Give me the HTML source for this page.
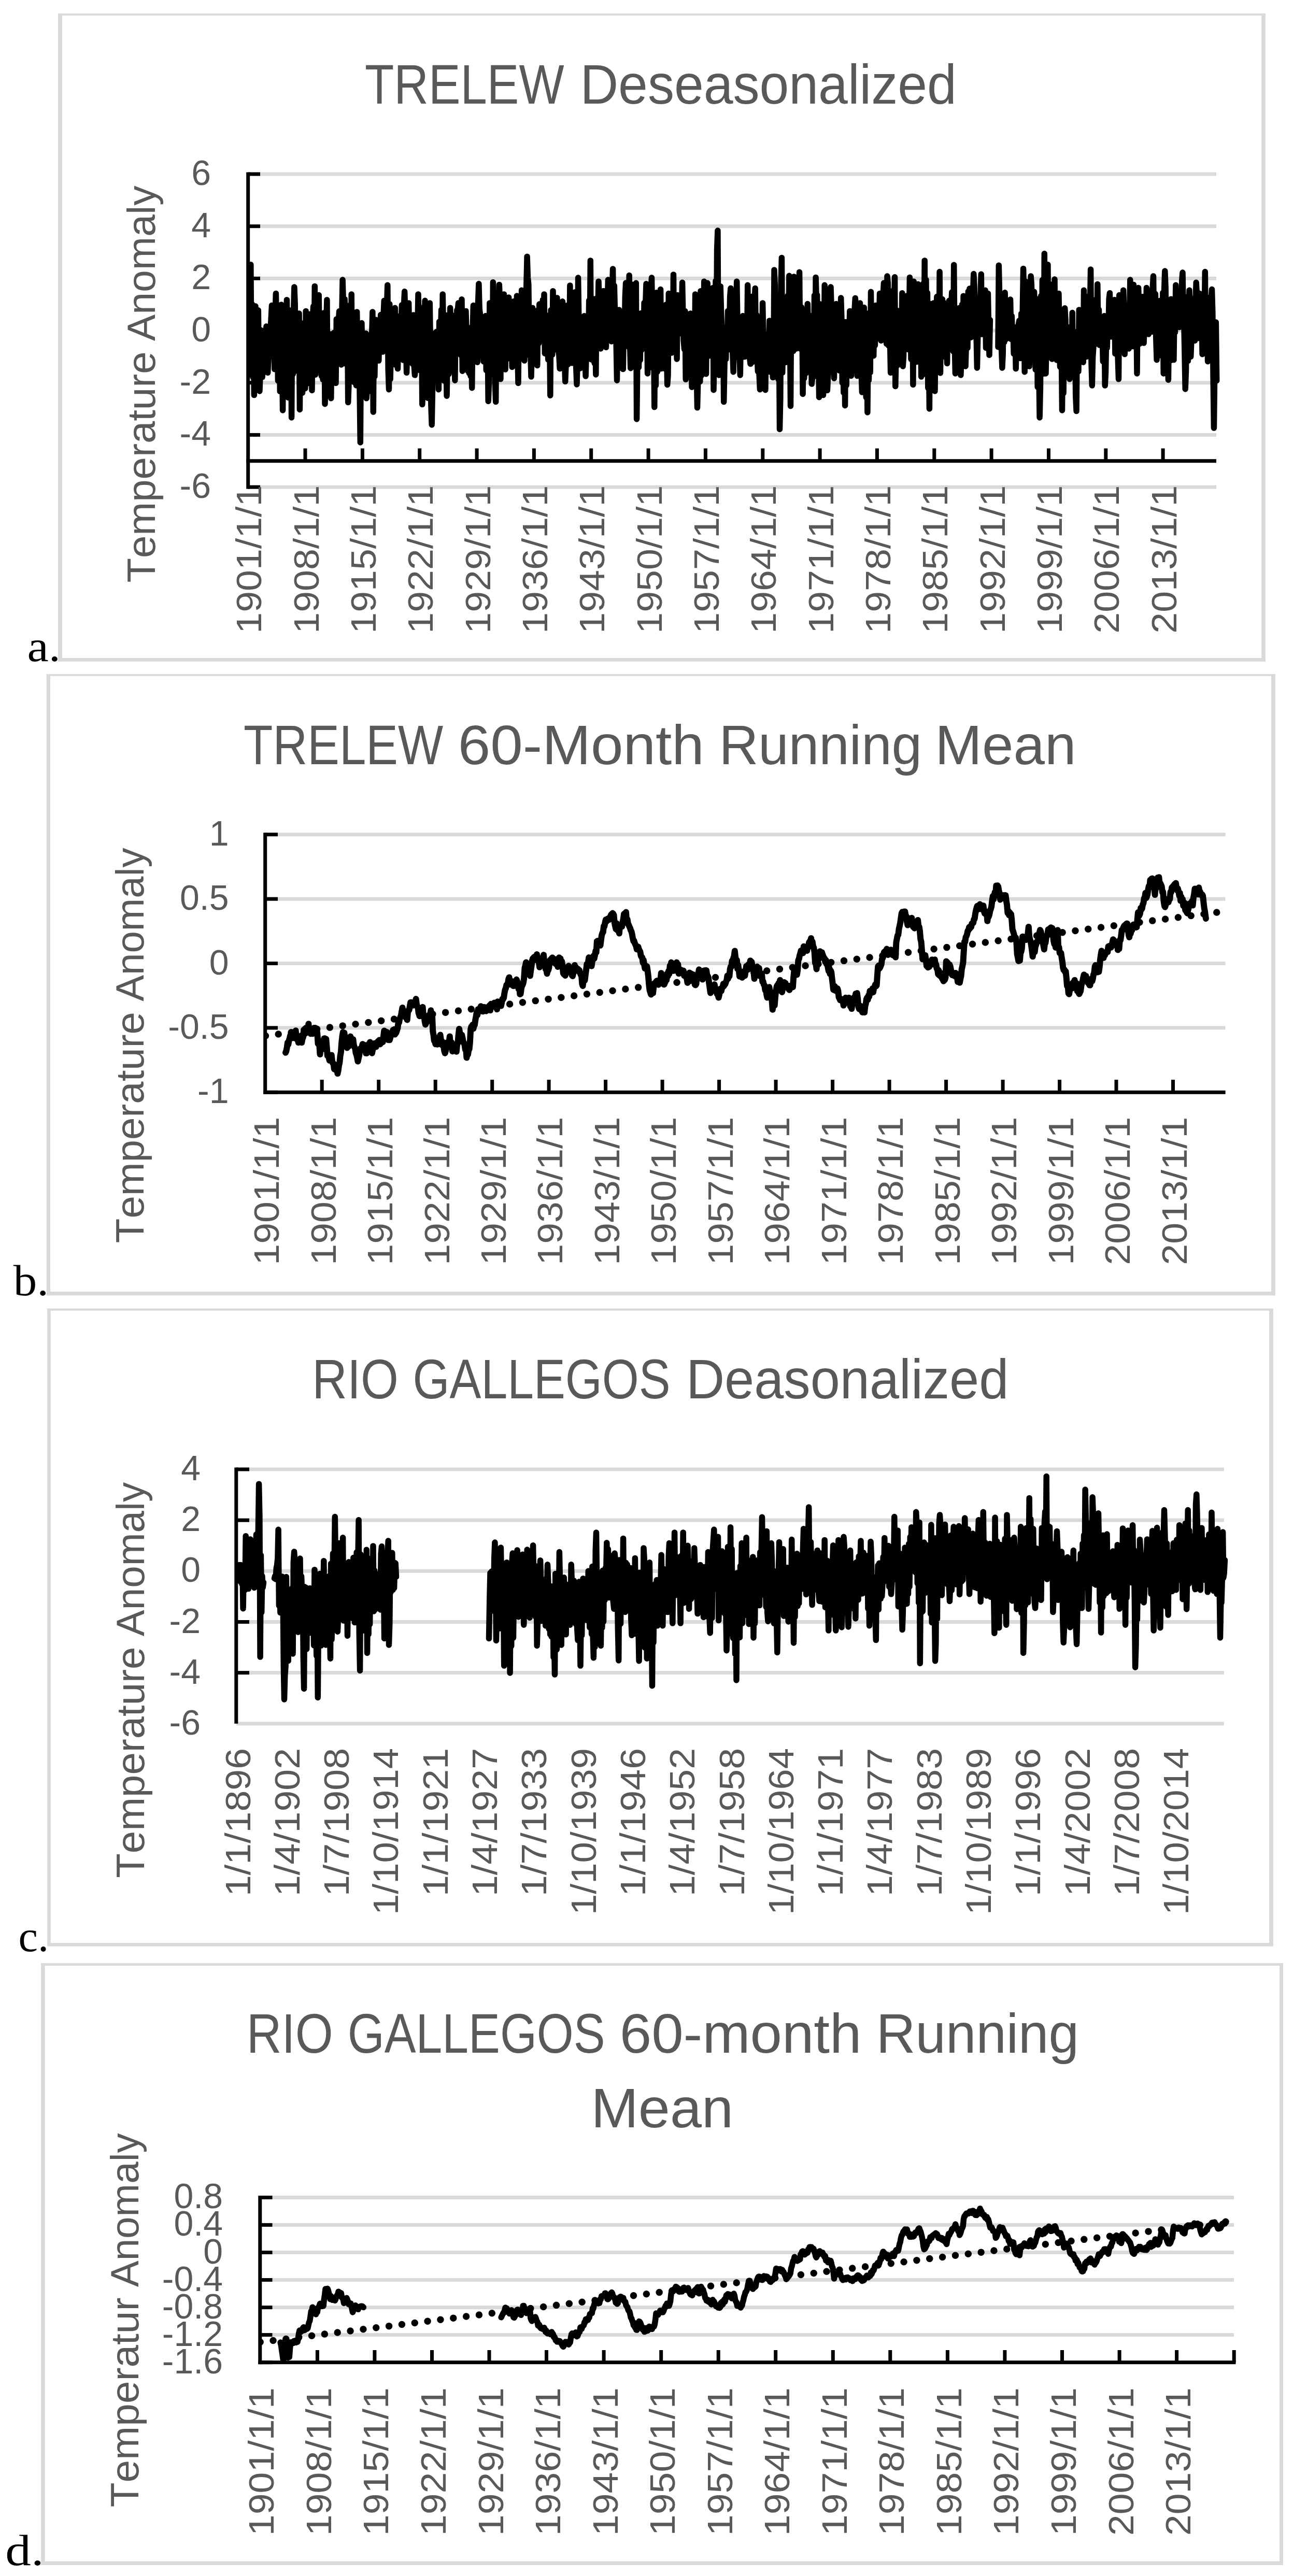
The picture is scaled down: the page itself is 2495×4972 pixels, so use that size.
<!DOCTYPE html>
<html lang="en"><head><meta charset="utf-8"><title>Temperature anomaly charts</title>
<style>html,body{margin:0;padding:0;background:#fff}svg{display:block}</style>
</head><body>
<svg width="2495" height="4972" viewBox="0 0 2495 4972">
<rect x="112.0" y="26.0" width="2329.9" height="3.9" fill="#d9d9d9"/>
<rect x="112.0" y="26.0" width="8.0" height="1250.8" fill="#d9d9d9"/>
<rect x="2434.2" y="26.0" width="7.7" height="1250.8" fill="#d9d9d9"/>
<rect x="112.0" y="1270.0" width="2329.9" height="6.8" fill="#d9d9d9"/>
<text y="200.0" font-size="107.5" fill="#595959" style="font-kerning:none" font-family='"Liberation Sans", sans-serif'><tspan x="703.9" textLength="384.6" lengthAdjust="spacingAndGlyphs">TRELEW</tspan> <tspan x="1119.4" textLength="726.5" lengthAdjust="spacingAndGlyphs">Deseasonalized</tspan></text>
<rect x="478.7" y="332.5" width="1868.3" height="7.0" fill="#d9d9d9"/>
<rect x="478.7" y="433.2" width="1868.3" height="7.0" fill="#d9d9d9"/>
<rect x="478.7" y="533.9" width="1868.3" height="7.0" fill="#d9d9d9"/>
<rect x="478.7" y="634.5" width="1868.3" height="7.0" fill="#d9d9d9"/>
<rect x="478.7" y="735.2" width="1868.3" height="7.0" fill="#d9d9d9"/>
<rect x="478.7" y="835.9" width="1868.3" height="7.0" fill="#d9d9d9"/>
<rect x="478.7" y="936.6" width="1868.3" height="7.0" fill="#d9d9d9"/>
<path d="M482.5 569.0 L483.8 510.7 L485.1 702.6 L486.4 587.0 L487.8 727.5 L489.1 618.1 L490.4 762.6 L491.7 646.5 L493.0 591.0 L494.3 717.4 L495.6 659.9 L496.9 688.7 L498.3 598.8 L499.6 714.6 L500.9 754.9 L502.2 722.1 L503.5 637.2 L504.8 697.7 L506.1 727.7 L507.5 711.3 L508.8 657.4 L510.1 682.2 L511.4 648.9 L512.7 648.6 L514.0 629.9 L515.3 684.0 L516.7 719.3 L518.0 690.7 L519.3 632.9 L520.6 685.3 L521.9 640.6 L523.2 615.1 L524.5 589.6 L525.8 650.0 L527.2 681.1 L528.5 625.5 L529.8 712.5 L531.1 605.3 L532.4 566.4 L533.7 635.2 L535.0 603.1 L536.4 734.8 L537.7 638.1 L539.0 623.1 L540.3 755.5 L541.6 652.5 L542.9 588.0 L544.2 669.1 L545.6 792.0 L546.9 633.5 L548.2 735.9 L549.5 737.0 L550.8 609.4 L552.1 711.6 L553.4 578.7 L554.7 658.1 L556.1 767.5 L557.4 598.3 L558.7 626.3 L560.0 709.1 L561.3 599.7 L562.6 805.9 L563.9 600.9 L565.3 722.2 L566.6 600.2 L567.9 554.0 L569.2 587.7 L570.5 715.4 L571.8 712.7 L573.1 656.8 L574.5 709.2 L575.8 657.2 L577.1 605.0 L578.4 790.5 L579.7 642.4 L581.0 745.3 L582.3 681.4 L583.6 758.2 L585.0 623.9 L586.3 734.8 L587.6 632.3 L588.9 749.7 L590.2 600.4 L591.5 741.1 L592.8 634.4 L594.2 739.7 L595.5 634.3 L596.8 606.6 L598.1 732.4 L599.4 718.6 L600.7 638.0 L602.0 753.4 L603.3 613.6 L604.7 591.3 L606.0 696.8 L607.3 552.4 L608.6 723.2 L609.9 592.0 L611.2 710.1 L612.5 635.1 L613.9 707.3 L615.2 569.5 L616.5 680.8 L617.8 609.9 L619.1 692.7 L620.4 725.8 L621.7 604.9 L623.1 732.6 L624.4 636.6 L625.7 603.8 L627.0 779.7 L628.3 714.3 L629.6 628.5 L630.9 578.7 L632.2 750.5 L633.6 655.7 L634.9 708.4 L636.2 644.8 L637.5 724.8 L638.8 768.8 L640.1 648.5 L641.4 691.6 L642.8 690.5 L644.1 642.3 L645.4 725.5 L646.7 662.2 L648.0 739.4 L649.3 615.9 L650.6 659.4 L652.0 689.9 L653.3 620.1 L654.6 600.8 L655.9 662.8 L657.2 621.7 L658.5 703.9 L659.8 610.9 L661.1 540.1 L662.5 585.4 L663.8 696.3 L665.1 577.1 L666.4 629.6 L667.7 592.3 L669.0 703.4 L670.3 590.0 L671.7 776.6 L673.0 741.6 L674.3 711.4 L675.6 636.5 L676.9 726.2 L678.2 567.9 L679.5 727.1 L680.8 730.8 L682.2 606.7 L683.5 737.9 L684.8 700.9 L686.1 641.4 L687.4 744.0 L688.7 601.9 L690.0 686.3 L691.4 734.6 L692.7 649.7 L694.0 752.1 L695.3 853.9 L696.6 662.3 L697.9 623.6 L699.2 701.5 L700.6 762.2 L701.9 644.1 L703.2 745.4 L704.5 740.5 L705.8 643.4 L707.1 768.8 L708.4 748.4 L709.7 727.4 L711.1 660.3 L712.4 727.6 L713.7 675.7 L715.0 646.0 L716.3 755.3 L717.6 648.6 L718.9 601.9 L720.3 795.1 L721.6 619.3 L722.9 726.6 L724.2 645.1 L725.5 617.3 L726.8 689.3 L728.1 620.8 L729.5 637.7 L730.8 696.1 L732.1 624.0 L733.4 657.6 L734.7 607.6 L736.0 667.2 L737.3 608.8 L738.6 679.1 L740.0 609.0 L741.3 580.3 L742.6 620.6 L743.9 675.9 L745.2 599.1 L746.5 590.2 L747.8 550.3 L749.2 714.5 L750.5 751.8 L751.8 586.7 L753.1 732.0 L754.4 675.4 L755.7 609.7 L757.0 671.4 L758.4 685.8 L759.7 642.7 L761.0 696.5 L762.3 594.2 L763.6 704.4 L764.9 666.6 L766.2 610.2 L767.5 711.6 L768.9 637.6 L770.2 656.8 L771.5 617.6 L772.8 659.7 L774.1 627.5 L775.4 588.7 L776.7 629.3 L778.1 695.0 L779.4 589.2 L780.7 562.7 L782.0 608.0 L783.3 654.4 L784.6 719.3 L785.9 681.5 L787.2 620.9 L788.6 584.9 L789.9 645.1 L791.2 611.2 L792.5 698.8 L793.8 635.3 L795.1 688.5 L796.4 702.6 L797.8 608.1 L799.1 704.6 L800.4 724.0 L801.7 712.2 L803.0 612.2 L804.3 690.7 L805.6 643.6 L807.0 567.9 L808.3 625.1 L809.6 714.3 L810.9 593.5 L812.2 706.9 L813.5 626.1 L814.8 780.6 L816.1 742.0 L817.5 612.2 L818.8 668.8 L820.1 580.3 L821.4 643.5 L822.7 714.6 L824.0 671.4 L825.3 768.2 L826.7 640.7 L828.0 635.1 L829.3 584.9 L830.6 680.2 L831.9 783.3 L833.2 819.9 L834.5 751.3 L835.9 652.8 L837.2 710.9 L838.5 729.9 L839.8 642.6 L841.1 714.4 L842.4 640.3 L843.7 733.4 L845.0 667.7 L846.4 751.8 L847.7 620.8 L849.0 733.7 L850.3 656.7 L851.6 598.1 L852.9 727.9 L854.2 567.9 L855.6 635.1 L856.9 734.8 L858.2 626.3 L859.5 608.2 L860.8 690.6 L862.1 764.2 L863.4 688.0 L864.7 655.4 L866.1 722.0 L867.4 646.9 L868.7 594.2 L870.0 630.9 L871.3 607.6 L872.6 689.2 L873.9 612.7 L875.3 707.1 L876.6 643.0 L877.9 734.2 L879.2 621.3 L880.5 678.4 L881.8 598.7 L883.1 601.2 L884.5 584.9 L885.8 616.9 L887.1 659.2 L888.4 625.9 L889.7 685.9 L891.0 577.7 L892.3 716.2 L893.6 604.6 L895.0 698.9 L896.3 633.3 L897.6 614.7 L898.9 600.4 L900.2 644.0 L901.5 639.5 L902.8 716.0 L904.2 632.8 L905.5 720.6 L906.8 642.9 L908.1 725.9 L909.4 656.2 L910.7 748.7 L912.0 639.8 L913.4 589.6 L914.7 612.4 L916.0 674.4 L917.3 602.5 L918.6 656.5 L919.9 589.2 L921.2 699.2 L922.5 584.2 L923.9 547.8 L925.2 596.0 L926.5 607.7 L927.8 658.3 L929.1 681.9 L930.4 619.1 L931.7 664.4 L933.1 697.7 L934.4 683.7 L935.7 632.1 L937.0 609.7 L938.3 714.6 L939.6 698.8 L940.9 638.5 L942.2 774.4 L943.6 738.3 L944.9 584.9 L946.2 604.9 L947.5 689.0 L948.8 585.4 L950.1 722.2 L951.4 544.7 L952.8 694.0 L954.1 584.0 L955.4 741.0 L956.7 775.6 L958.0 595.0 L959.3 707.8 L960.6 586.6 L962.0 605.9 L963.3 549.4 L964.6 579.3 L965.9 731.7 L967.2 596.2 L968.5 695.9 L969.8 676.6 L971.1 625.1 L972.5 567.9 L973.8 624.2 L975.1 713.1 L976.4 586.4 L977.7 666.2 L979.0 601.3 L980.3 658.6 L981.7 574.1 L983.0 691.9 L984.3 629.7 L985.6 662.0 L986.9 603.8 L988.2 708.5 L989.5 624.9 L990.9 581.8 L992.2 612.8 L993.5 616.9 L994.8 705.7 L996.1 680.5 L997.4 571.0 L998.7 678.6 L1000.0 739.4 L1001.4 617.5 L1002.7 685.7 L1004.0 578.6 L1005.3 661.3 L1006.6 560.2 L1007.9 683.7 L1009.2 581.1 L1010.6 638.5 L1011.9 696.1 L1013.2 567.7 L1014.5 685.6 L1015.8 551.8 L1017.1 495.2 L1018.4 535.5 L1019.8 548.5 L1021.1 652.7 L1022.4 616.2 L1023.7 678.7 L1025.0 727.1 L1026.3 678.4 L1027.6 594.2 L1028.9 643.4 L1030.3 635.8 L1031.6 680.8 L1032.9 603.1 L1034.2 667.8 L1035.5 619.6 L1036.8 705.4 L1038.1 598.6 L1039.5 662.8 L1040.8 587.1 L1042.1 600.6 L1043.4 654.5 L1044.7 614.8 L1046.0 655.5 L1047.3 579.0 L1048.6 643.3 L1050.0 567.9 L1051.3 682.2 L1052.6 607.6 L1053.9 676.5 L1055.2 622.1 L1056.5 672.5 L1057.8 694.2 L1059.2 626.6 L1060.5 643.6 L1061.8 763.3 L1063.1 598.6 L1064.4 683.8 L1065.7 684.7 L1067.0 561.7 L1068.4 646.5 L1069.7 616.7 L1071.0 674.5 L1072.3 657.5 L1073.6 587.9 L1074.9 575.0 L1076.2 626.8 L1077.5 676.2 L1078.9 686.1 L1080.2 711.6 L1081.5 671.8 L1082.8 608.2 L1084.1 677.1 L1085.4 581.8 L1086.7 610.0 L1088.1 702.7 L1089.4 693.9 L1090.7 736.3 L1092.0 706.1 L1093.3 689.1 L1094.6 589.5 L1095.9 703.4 L1097.3 616.7 L1098.6 657.5 L1099.9 550.9 L1101.2 691.2 L1102.5 591.4 L1103.8 700.8 L1105.1 568.4 L1106.4 671.7 L1107.8 606.3 L1109.1 564.1 L1110.4 585.9 L1111.7 709.7 L1113.0 741.9 L1114.3 694.5 L1115.6 536.0 L1117.0 625.5 L1118.3 667.7 L1119.6 710.9 L1120.9 627.8 L1122.2 700.0 L1123.5 622.1 L1124.8 654.6 L1126.2 695.0 L1127.5 609.7 L1128.8 677.1 L1130.1 726.1 L1131.4 676.4 L1132.7 629.4 L1134.0 654.9 L1135.3 678.3 L1136.7 579.8 L1138.0 674.1 L1139.3 502.9 L1140.6 693.7 L1141.9 686.4 L1143.2 576.2 L1144.5 695.7 L1145.9 577.8 L1147.2 701.2 L1148.5 610.8 L1149.8 723.0 L1151.1 575.9 L1152.4 650.6 L1153.7 606.1 L1155.0 543.2 L1156.4 587.7 L1157.7 656.8 L1159.0 672.9 L1160.3 638.5 L1161.6 604.6 L1162.9 568.5 L1164.2 561.7 L1165.6 574.3 L1166.9 651.2 L1168.2 567.7 L1169.5 670.4 L1170.8 576.1 L1172.1 597.0 L1173.4 540.1 L1174.8 589.7 L1176.1 553.6 L1177.4 621.2 L1178.7 584.7 L1180.0 659.0 L1181.3 559.7 L1182.6 519.0 L1183.9 626.7 L1185.3 551.3 L1186.6 603.9 L1187.9 605.7 L1189.2 665.3 L1190.5 734.2 L1191.8 613.5 L1193.1 711.3 L1194.5 597.9 L1195.8 679.0 L1197.1 701.1 L1198.4 635.5 L1199.7 702.3 L1201.0 630.7 L1202.3 712.5 L1203.7 616.9 L1205.0 656.4 L1206.3 573.5 L1207.6 546.3 L1208.9 667.1 L1210.2 592.1 L1211.5 566.0 L1212.8 669.3 L1214.2 531.5 L1215.5 662.0 L1216.8 710.7 L1218.1 652.5 L1219.4 549.0 L1220.7 668.8 L1222.0 609.1 L1223.4 707.9 L1224.7 565.2 L1226.0 647.8 L1227.3 546.3 L1228.6 809.0 L1229.9 699.3 L1231.2 605.2 L1232.5 709.2 L1233.9 610.6 L1235.2 695.2 L1236.5 604.8 L1237.8 676.0 L1239.1 640.8 L1240.4 611.2 L1241.7 669.1 L1243.1 584.4 L1244.4 661.2 L1245.7 586.9 L1247.0 547.8 L1248.3 576.1 L1249.6 720.9 L1250.9 615.2 L1252.3 683.8 L1253.6 597.8 L1254.9 709.1 L1256.2 559.0 L1257.5 536.0 L1258.8 619.0 L1260.1 696.1 L1261.4 624.5 L1262.8 785.8 L1264.1 608.4 L1265.4 744.2 L1266.7 564.8 L1268.0 718.1 L1269.3 715.0 L1270.6 606.2 L1272.0 665.2 L1273.3 647.2 L1274.6 558.6 L1275.9 711.6 L1277.2 684.4 L1278.5 598.3 L1279.8 609.0 L1281.2 661.5 L1282.5 621.3 L1283.8 712.1 L1285.1 588.0 L1286.4 675.0 L1287.7 742.5 L1289.0 724.1 L1290.3 566.4 L1291.7 597.2 L1293.0 675.8 L1294.3 623.4 L1295.6 681.0 L1296.9 670.4 L1298.2 659.5 L1299.5 529.9 L1300.9 676.5 L1302.2 595.1 L1303.5 663.8 L1304.8 608.0 L1306.1 693.0 L1307.4 569.5 L1308.7 590.7 L1310.1 613.2 L1311.4 643.7 L1312.7 602.6 L1314.0 640.5 L1315.3 603.4 L1316.6 545.3 L1317.9 609.3 L1319.2 658.3 L1320.6 674.3 L1321.9 600.6 L1323.2 732.3 L1324.5 687.6 L1325.8 606.2 L1327.1 711.0 L1328.4 653.2 L1329.8 687.9 L1331.1 654.6 L1332.4 605.0 L1333.7 640.2 L1335.0 747.2 L1336.3 646.3 L1337.6 722.4 L1338.9 646.3 L1340.3 728.4 L1341.6 567.9 L1342.9 641.3 L1344.2 716.6 L1345.5 786.8 L1346.8 735.4 L1348.1 597.4 L1349.5 631.5 L1350.8 736.5 L1352.1 561.7 L1353.4 725.0 L1354.7 677.0 L1356.0 629.0 L1357.3 680.2 L1358.7 543.2 L1360.0 682.2 L1361.3 613.8 L1362.6 721.8 L1363.9 580.4 L1365.2 546.3 L1366.5 598.4 L1367.8 686.9 L1369.2 596.0 L1370.5 656.6 L1371.8 611.4 L1373.1 686.4 L1374.4 603.1 L1375.7 555.5 L1377.0 752.7 L1378.4 679.2 L1379.7 689.2 L1381.0 542.1 L1382.3 663.2 L1383.6 481.1 L1384.9 445.1 L1386.2 687.3 L1387.6 724.0 L1388.9 664.9 L1390.2 552.7 L1391.5 599.5 L1392.8 636.0 L1394.1 711.3 L1395.4 638.8 L1396.7 775.6 L1398.1 701.5 L1399.4 646.5 L1400.7 693.3 L1402.0 631.2 L1403.3 675.6 L1404.6 600.2 L1405.9 674.5 L1407.3 645.0 L1408.6 573.4 L1409.9 556.5 L1411.2 582.0 L1412.5 576.1 L1413.8 680.4 L1415.1 717.8 L1416.4 662.0 L1417.8 590.7 L1419.1 657.8 L1420.4 609.1 L1421.7 543.2 L1423.0 622.4 L1424.3 690.4 L1425.6 612.0 L1427.0 685.0 L1428.3 724.0 L1429.6 644.7 L1430.9 688.2 L1432.2 636.6 L1433.5 609.7 L1434.8 637.4 L1436.2 688.6 L1437.5 688.3 L1438.8 614.3 L1440.1 674.0 L1441.4 680.9 L1442.7 550.3 L1444.0 652.0 L1445.3 622.1 L1446.7 691.1 L1448.0 702.3 L1449.3 608.4 L1450.6 572.6 L1451.9 698.9 L1453.2 594.4 L1454.5 653.1 L1455.9 587.9 L1457.2 556.5 L1458.5 656.4 L1459.8 607.7 L1461.1 680.3 L1462.4 717.0 L1463.7 625.7 L1465.1 723.2 L1466.4 751.8 L1467.7 621.3 L1469.0 646.3 L1470.3 683.7 L1471.6 584.9 L1472.9 653.0 L1474.2 683.2 L1475.6 656.9 L1476.9 752.7 L1478.2 645.5 L1479.5 699.7 L1480.8 666.3 L1482.1 655.4 L1483.4 693.4 L1484.8 619.0 L1486.1 717.8 L1487.4 634.5 L1488.7 625.0 L1490.0 691.5 L1491.3 728.6 L1492.6 719.2 L1494.0 520.9 L1495.3 550.4 L1496.6 671.7 L1497.9 615.3 L1499.2 673.3 L1500.5 569.6 L1501.8 732.0 L1503.1 622.3 L1504.5 828.5 L1505.8 769.9 L1507.1 549.4 L1508.4 497.4 L1509.7 719.3 L1511.0 652.9 L1512.3 670.7 L1513.7 588.1 L1515.0 600.4 L1516.3 699.2 L1517.6 581.3 L1518.9 693.8 L1520.2 570.5 L1521.5 673.2 L1522.8 532.3 L1524.2 608.1 L1525.5 783.7 L1526.8 594.3 L1528.1 675.8 L1529.4 617.1 L1530.7 677.7 L1532.0 533.9 L1533.4 654.6 L1534.7 549.7 L1536.0 673.2 L1537.3 559.0 L1538.6 663.1 L1539.9 666.7 L1541.2 639.6 L1542.6 525.2 L1543.9 672.8 L1545.2 660.6 L1546.5 593.0 L1547.8 613.6 L1549.1 760.5 L1550.4 618.7 L1551.7 730.2 L1553.1 710.1 L1554.4 610.5 L1555.7 719.9 L1557.0 626.3 L1558.3 586.5 L1559.6 639.9 L1560.9 704.2 L1562.3 646.6 L1563.6 695.1 L1564.9 610.0 L1566.2 741.0 L1567.5 729.4 L1568.8 617.6 L1570.1 727.0 L1571.5 570.4 L1572.8 724.2 L1574.1 535.4 L1575.4 580.4 L1576.7 569.8 L1578.0 703.8 L1579.3 671.3 L1580.6 766.7 L1582.0 586.7 L1583.3 711.2 L1584.6 683.1 L1585.9 595.9 L1587.2 712.6 L1588.5 762.6 L1589.8 731.7 L1591.2 550.3 L1592.5 571.9 L1593.8 677.7 L1595.1 633.9 L1596.4 753.4 L1597.7 725.6 L1599.0 626.6 L1600.3 717.9 L1601.7 573.4 L1603.0 554.0 L1604.3 595.8 L1605.6 594.1 L1606.9 701.0 L1608.2 640.8 L1609.5 730.2 L1610.9 631.4 L1612.2 707.5 L1613.5 586.5 L1614.8 698.2 L1616.1 648.5 L1617.4 620.5 L1618.7 687.0 L1620.1 715.6 L1621.4 632.2 L1622.7 575.0 L1624.0 616.8 L1625.3 738.9 L1626.6 636.3 L1627.9 758.0 L1629.2 628.6 L1630.6 782.7 L1631.9 621.5 L1633.2 743.8 L1634.5 642.1 L1635.8 644.3 L1637.1 712.9 L1638.4 658.7 L1639.8 600.4 L1641.1 609.0 L1642.4 725.5 L1643.7 639.1 L1645.0 671.9 L1646.3 676.0 L1647.6 628.2 L1649.0 598.6 L1650.3 575.6 L1651.6 591.7 L1652.9 680.4 L1654.2 725.5 L1655.5 682.8 L1656.8 718.7 L1658.1 615.0 L1659.5 584.9 L1660.8 638.0 L1662.1 717.7 L1663.4 757.1 L1664.7 712.2 L1666.0 730.4 L1667.3 593.6 L1668.7 722.3 L1670.0 627.2 L1671.3 766.9 L1672.6 648.1 L1673.9 796.0 L1675.2 663.3 L1676.5 733.7 L1677.9 603.3 L1679.2 718.9 L1680.5 563.3 L1681.8 680.8 L1683.1 589.4 L1684.4 590.9 L1685.7 686.8 L1687.0 607.3 L1688.4 666.6 L1689.7 589.6 L1691.0 653.7 L1692.3 619.7 L1693.6 638.9 L1694.9 608.3 L1696.2 626.3 L1697.6 566.4 L1698.9 634.9 L1700.2 657.5 L1701.5 619.9 L1702.8 632.5 L1704.1 572.7 L1705.4 546.3 L1706.7 609.8 L1708.1 558.5 L1709.4 641.1 L1710.7 663.6 L1712.0 533.0 L1713.3 546.2 L1714.6 667.1 L1715.9 583.4 L1717.3 648.8 L1718.6 719.3 L1719.9 674.4 L1721.2 561.9 L1722.5 581.8 L1723.8 708.7 L1725.1 600.7 L1726.5 534.8 L1727.8 745.6 L1729.1 680.4 L1730.4 599.9 L1731.7 705.2 L1733.0 600.1 L1734.3 671.8 L1735.6 624.0 L1737.0 665.7 L1738.3 616.1 L1739.6 673.8 L1740.9 565.7 L1742.2 707.0 L1743.5 689.0 L1744.8 590.1 L1746.2 646.2 L1747.5 586.7 L1748.8 648.8 L1750.1 570.9 L1751.4 623.3 L1752.7 674.5 L1754.0 644.0 L1755.4 535.4 L1756.7 569.0 L1758.0 693.3 L1759.3 662.3 L1760.6 568.5 L1761.9 742.5 L1763.2 543.2 L1764.5 698.7 L1765.9 566.4 L1767.2 654.5 L1768.5 698.5 L1769.8 628.7 L1771.1 548.4 L1772.4 558.1 L1773.7 617.9 L1775.1 675.1 L1776.4 593.2 L1777.7 727.1 L1779.0 593.8 L1780.3 647.8 L1781.6 547.3 L1782.9 686.0 L1784.2 502.9 L1785.6 721.9 L1786.9 539.7 L1788.2 694.0 L1789.5 565.4 L1790.8 748.9 L1792.1 645.7 L1793.4 788.9 L1794.8 586.5 L1796.1 735.7 L1797.4 601.1 L1798.7 732.0 L1800.0 618.9 L1801.3 584.9 L1802.6 636.4 L1804.0 754.9 L1805.3 618.1 L1806.6 626.9 L1807.9 572.6 L1809.2 677.6 L1810.5 611.8 L1811.8 693.1 L1813.1 524.6 L1814.5 719.9 L1815.8 577.5 L1817.1 679.9 L1818.4 577.5 L1819.7 609.4 L1821.0 661.9 L1822.3 584.9 L1823.7 688.6 L1825.0 607.0 L1826.3 675.0 L1827.6 701.4 L1828.9 602.6 L1830.2 630.8 L1831.5 580.3 L1832.9 606.0 L1834.2 650.5 L1835.5 590.8 L1836.8 564.1 L1838.1 655.8 L1839.4 678.1 L1840.7 511.3 L1842.0 651.9 L1843.4 720.9 L1844.7 659.9 L1846.0 612.9 L1847.3 678.6 L1848.6 623.3 L1849.9 685.3 L1851.2 594.2 L1852.6 706.1 L1853.9 724.0 L1855.2 687.2 L1856.5 587.5 L1857.8 662.5 L1859.1 571.2 L1860.4 685.4 L1861.8 584.4 L1863.1 707.0 L1864.4 661.9 L1865.7 589.7 L1867.0 671.6 L1868.3 562.7 L1869.6 622.0 L1870.9 557.1 L1872.3 593.6 L1873.6 651.3 L1874.9 592.8 L1876.2 613.9 L1877.5 566.3 L1878.8 528.6 L1880.1 551.5 L1881.5 624.3 L1882.8 592.3 L1884.1 650.5 L1885.4 710.0 L1886.7 651.8 L1888.0 596.4 L1889.3 643.9 L1890.6 637.2 L1892.0 572.9 L1893.3 529.2 L1894.6 645.1 L1895.9 638.9 L1897.2 642.4 L1898.5 579.2 L1899.8 642.2 L1901.2 560.2 L1902.5 671.4 L1903.8 665.0 L1905.1 609.3 L1906.4 566.4 L1907.7 638.3 L1909.0 685.3 L1910.4 617.4" fill="none" stroke="#000" stroke-width="11.5" stroke-linejoin="round" stroke-linecap="round"/>
<path d="M1926.0 669.8 L1927.3 512.2 L1928.6 566.8 L1929.9 666.1 L1931.3 568.7 L1932.6 674.1 L1933.9 710.0 L1935.2 683.5 L1936.5 574.7 L1937.8 660.5 L1939.1 564.8 L1940.4 612.7 L1941.8 654.2 L1943.1 606.8 L1944.4 582.4 L1945.7 646.6 L1947.0 600.2 L1948.3 627.2 L1949.6 578.1 L1951.0 654.7 L1952.3 609.8 L1953.6 654.2 L1954.9 632.1 L1956.2 682.9 L1957.5 678.8 L1958.8 632.0 L1960.2 711.6 L1961.5 642.0 L1962.8 680.9 L1964.1 678.2 L1965.4 626.7 L1966.7 619.0 L1968.0 632.7 L1969.3 691.5 L1970.7 605.5 L1972.0 673.4 L1973.3 596.4 L1974.6 518.4 L1975.9 570.8 L1977.2 717.8 L1978.5 542.8 L1979.9 695.5 L1981.2 552.0 L1982.5 642.2 L1983.8 552.9 L1985.1 647.9 L1986.4 707.0 L1987.7 628.0 L1989.1 533.0 L1990.4 550.0 L1991.7 628.2 L1993.0 686.8 L1994.3 585.1 L1995.6 563.3 L1996.9 597.6 L1998.2 713.4 L1999.6 678.8 L2000.9 577.2 L2002.2 747.1 L2003.5 603.5 L2004.8 708.3 L2006.1 805.9 L2007.4 749.1 L2008.8 571.0 L2010.1 685.8 L2011.4 540.3 L2012.7 699.0 L2014.0 721.2 L2015.3 489.6 L2016.6 704.8 L2018.0 720.9 L2019.3 652.5 L2020.6 554.0 L2021.9 510.7 L2023.2 673.6 L2024.5 678.2 L2025.8 548.4 L2027.1 627.6 L2028.5 583.0 L2029.8 693.0 L2031.1 663.1 L2032.4 575.6 L2033.7 657.9 L2035.0 539.1 L2036.3 684.2 L2037.7 621.9 L2039.0 694.9 L2040.3 595.4 L2041.6 619.4 L2042.9 566.4 L2044.2 642.6 L2045.5 708.1 L2046.8 643.2 L2048.2 670.3 L2049.5 792.0 L2050.8 644.1 L2052.1 758.9 L2053.4 624.9 L2054.7 594.8 L2056.0 617.8 L2057.4 710.5 L2058.7 727.2 L2060.0 637.7 L2061.3 699.3 L2062.6 631.8 L2063.9 731.7 L2065.2 696.3 L2066.6 648.3 L2067.9 703.5 L2069.2 603.5 L2070.5 718.9 L2071.8 672.1 L2073.1 660.4 L2074.4 644.2 L2075.7 763.3 L2077.1 793.6 L2078.4 641.7 L2079.7 639.3 L2081.0 716.9 L2082.3 597.9 L2083.6 697.5 L2084.9 631.8 L2086.3 637.1 L2087.6 667.6 L2088.9 672.8 L2090.2 699.2 L2091.5 560.2 L2092.8 679.9 L2094.1 614.0 L2095.5 574.1 L2096.8 688.5 L2098.1 603.0 L2099.4 650.9 L2100.7 571.5 L2102.0 654.9 L2103.3 592.9 L2104.6 520.0 L2106.0 701.5 L2107.3 744.1 L2108.6 690.2 L2109.9 670.7 L2111.2 585.3 L2112.5 648.8 L2113.8 578.7 L2115.2 632.3 L2116.5 663.6 L2117.8 548.4 L2119.1 652.3 L2120.4 597.5 L2121.7 666.1 L2123.0 647.0 L2124.3 630.3 L2125.7 657.0 L2127.0 636.1 L2128.3 697.5 L2129.6 614.5 L2130.9 609.7 L2132.2 744.1 L2133.5 719.3 L2134.9 639.2 L2136.2 671.7 L2137.5 618.3 L2138.8 638.4 L2140.1 577.7 L2141.4 565.7 L2142.7 649.7 L2144.1 649.8 L2145.4 592.0 L2146.7 636.4 L2148.0 593.7 L2149.3 594.2 L2150.6 578.7 L2151.9 682.7 L2153.2 623.5 L2154.6 676.3 L2155.9 625.3 L2157.2 692.2 L2158.5 731.7 L2159.8 569.5 L2161.1 677.3 L2162.4 593.2 L2163.8 655.3 L2165.1 596.0 L2166.4 657.8 L2167.7 560.2 L2169.0 600.1 L2170.3 683.7 L2171.6 592.9 L2173.0 639.6 L2174.3 592.4 L2175.6 591.9 L2176.9 649.6 L2178.2 672.9 L2179.5 620.8 L2180.8 540.1 L2182.1 661.3 L2183.5 656.7 L2184.8 587.3 L2186.1 668.6 L2187.4 549.4 L2188.7 668.1 L2190.0 592.4 L2191.3 596.5 L2192.7 602.7 L2194.0 720.9 L2195.3 580.5 L2196.6 555.5 L2197.9 592.7 L2199.2 663.5 L2200.5 598.5 L2201.8 628.7 L2203.2 658.0 L2204.5 572.8 L2205.8 599.2 L2207.1 662.1 L2208.4 623.3 L2209.7 597.8 L2211.0 614.4 L2212.4 555.5 L2213.7 635.8 L2215.0 576.5 L2216.3 645.1 L2217.6 584.8 L2218.9 561.2 L2220.2 573.6 L2221.6 615.8 L2222.9 640.2 L2224.2 555.6 L2225.5 533.0 L2226.8 620.8 L2228.1 593.7 L2229.4 567.2 L2230.7 651.5 L2232.1 694.6 L2233.4 657.5 L2234.7 582.2 L2236.0 669.5 L2237.3 686.1 L2238.6 580.3 L2239.9 614.7 L2241.3 628.6 L2242.6 675.7 L2243.9 565.1 L2245.2 720.9 L2246.5 561.8 L2247.8 523.1 L2249.1 553.2 L2250.5 667.3 L2251.8 619.4 L2253.1 654.5 L2254.4 733.2 L2255.7 626.8 L2257.0 605.6 L2258.3 696.1 L2259.6 577.2 L2261.0 611.7 L2262.3 658.1 L2263.6 591.7 L2264.9 694.6 L2266.2 599.6 L2267.5 641.3 L2268.8 550.3 L2270.2 623.7 L2271.5 573.1 L2272.8 610.8 L2274.1 631.2 L2275.4 631.5 L2276.7 612.5 L2278.0 619.8 L2279.4 613.8 L2280.7 541.8 L2282.0 526.1 L2283.3 601.7 L2284.6 612.8 L2285.9 680.0 L2287.2 750.9 L2288.5 715.5 L2289.9 573.6 L2291.2 654.1 L2292.5 696.5 L2293.8 597.8 L2295.1 560.2 L2296.4 614.0 L2297.7 688.4 L2299.1 651.8 L2300.4 589.8 L2301.7 649.1 L2303.0 651.6 L2304.3 576.1 L2305.6 657.5 L2306.9 588.2 L2308.2 545.3 L2309.6 572.0 L2310.9 645.7 L2312.2 582.5 L2313.5 652.8 L2314.8 566.4 L2316.1 581.5 L2317.4 626.1 L2318.8 598.3 L2320.1 683.7 L2321.4 591.1 L2322.7 646.4 L2324.0 626.9 L2325.3 524.6 L2326.6 659.9 L2328.0 595.3 L2329.3 580.0 L2330.6 697.7 L2331.9 673.7 L2333.2 574.2 L2334.5 662.2 L2335.8 621.7 L2337.1 579.8 L2338.5 558.6 L2339.8 602.2 L2341.1 726.9 L2342.4 826.1 L2343.7 721.5 L2345.0 706.8 L2346.3 622.1 L2347.7 734.8" fill="none" stroke="#000" stroke-width="11.5" stroke-linejoin="round" stroke-linecap="round"/>
<rect x="475.2" y="332.5" width="7.0" height="611.1" fill="#000"/>
<rect x="478.7" y="332.5" width="23.3" height="7.0" fill="#000"/>
<rect x="478.7" y="433.2" width="23.3" height="7.0" fill="#000"/>
<rect x="478.7" y="533.9" width="23.3" height="7.0" fill="#000"/>
<rect x="478.7" y="634.5" width="23.3" height="7.0" fill="#000"/>
<rect x="478.7" y="735.2" width="23.3" height="7.0" fill="#000"/>
<rect x="478.7" y="835.9" width="23.3" height="7.0" fill="#000"/>
<rect x="478.7" y="936.6" width="23.3" height="7.0" fill="#000"/>
<rect x="475.2" y="886.2" width="1871.8" height="7.0" fill="#000"/>
<text transform="translate(504.2,936.7) rotate(-90)" font-size="68" text-anchor="end" fill="#595959" font-family='"Liberation Sans", sans-serif' textLength="286.0" lengthAdjust="spacingAndGlyphs">1901/1/1</text>
<rect x="585.5" y="865.5" width="7.0" height="24.2" fill="#000"/>
<text transform="translate(614.5,936.7) rotate(-90)" font-size="68" text-anchor="end" fill="#595959" font-family='"Liberation Sans", sans-serif' textLength="286.0" lengthAdjust="spacingAndGlyphs">1908/1/1</text>
<rect x="695.9" y="865.5" width="7.0" height="24.2" fill="#000"/>
<text transform="translate(724.9,936.7) rotate(-90)" font-size="68" text-anchor="end" fill="#595959" font-family='"Liberation Sans", sans-serif' textLength="286.0" lengthAdjust="spacingAndGlyphs">1915/1/1</text>
<rect x="806.2" y="865.5" width="7.0" height="24.2" fill="#000"/>
<text transform="translate(835.2,936.7) rotate(-90)" font-size="68" text-anchor="end" fill="#595959" font-family='"Liberation Sans", sans-serif' textLength="286.0" lengthAdjust="spacingAndGlyphs">1922/1/1</text>
<rect x="916.6" y="865.5" width="7.0" height="24.2" fill="#000"/>
<text transform="translate(945.6,936.7) rotate(-90)" font-size="68" text-anchor="end" fill="#595959" font-family='"Liberation Sans", sans-serif' textLength="286.0" lengthAdjust="spacingAndGlyphs">1929/1/1</text>
<rect x="1026.9" y="865.5" width="7.0" height="24.2" fill="#000"/>
<text transform="translate(1055.9,936.7) rotate(-90)" font-size="68" text-anchor="end" fill="#595959" font-family='"Liberation Sans", sans-serif' textLength="286.0" lengthAdjust="spacingAndGlyphs">1936/1/1</text>
<rect x="1137.2" y="865.5" width="7.0" height="24.2" fill="#000"/>
<text transform="translate(1166.2,936.7) rotate(-90)" font-size="68" text-anchor="end" fill="#595959" font-family='"Liberation Sans", sans-serif' textLength="286.0" lengthAdjust="spacingAndGlyphs">1943/1/1</text>
<rect x="1247.6" y="865.5" width="7.0" height="24.2" fill="#000"/>
<text transform="translate(1276.6,936.7) rotate(-90)" font-size="68" text-anchor="end" fill="#595959" font-family='"Liberation Sans", sans-serif' textLength="286.0" lengthAdjust="spacingAndGlyphs">1950/1/1</text>
<rect x="1357.9" y="865.5" width="7.0" height="24.2" fill="#000"/>
<text transform="translate(1386.9,936.7) rotate(-90)" font-size="68" text-anchor="end" fill="#595959" font-family='"Liberation Sans", sans-serif' textLength="286.0" lengthAdjust="spacingAndGlyphs">1957/1/1</text>
<rect x="1468.3" y="865.5" width="7.0" height="24.2" fill="#000"/>
<text transform="translate(1497.3,936.7) rotate(-90)" font-size="68" text-anchor="end" fill="#595959" font-family='"Liberation Sans", sans-serif' textLength="286.0" lengthAdjust="spacingAndGlyphs">1964/1/1</text>
<rect x="1578.6" y="865.5" width="7.0" height="24.2" fill="#000"/>
<text transform="translate(1607.6,936.7) rotate(-90)" font-size="68" text-anchor="end" fill="#595959" font-family='"Liberation Sans", sans-serif' textLength="286.0" lengthAdjust="spacingAndGlyphs">1971/1/1</text>
<rect x="1688.9" y="865.5" width="7.0" height="24.2" fill="#000"/>
<text transform="translate(1717.9,936.7) rotate(-90)" font-size="68" text-anchor="end" fill="#595959" font-family='"Liberation Sans", sans-serif' textLength="286.0" lengthAdjust="spacingAndGlyphs">1978/1/1</text>
<rect x="1799.3" y="865.5" width="7.0" height="24.2" fill="#000"/>
<text transform="translate(1828.3,936.7) rotate(-90)" font-size="68" text-anchor="end" fill="#595959" font-family='"Liberation Sans", sans-serif' textLength="286.0" lengthAdjust="spacingAndGlyphs">1985/1/1</text>
<rect x="1909.6" y="865.5" width="7.0" height="24.2" fill="#000"/>
<text transform="translate(1938.6,936.7) rotate(-90)" font-size="68" text-anchor="end" fill="#595959" font-family='"Liberation Sans", sans-serif' textLength="286.0" lengthAdjust="spacingAndGlyphs">1992/1/1</text>
<rect x="2020.0" y="865.5" width="7.0" height="24.2" fill="#000"/>
<text transform="translate(2049.0,936.7) rotate(-90)" font-size="68" text-anchor="end" fill="#595959" font-family='"Liberation Sans", sans-serif' textLength="286.0" lengthAdjust="spacingAndGlyphs">1999/1/1</text>
<rect x="2130.3" y="865.5" width="7.0" height="24.2" fill="#000"/>
<text transform="translate(2159.3,936.7) rotate(-90)" font-size="68" text-anchor="end" fill="#595959" font-family='"Liberation Sans", sans-serif' textLength="286.0" lengthAdjust="spacingAndGlyphs">2006/1/1</text>
<rect x="2240.6" y="865.5" width="7.0" height="24.2" fill="#000"/>
<text transform="translate(2269.6,936.7) rotate(-90)" font-size="68" text-anchor="end" fill="#595959" font-family='"Liberation Sans", sans-serif' textLength="286.0" lengthAdjust="spacingAndGlyphs">2013/1/1</text>
<text x="407.0" y="357.0" font-size="68" text-anchor="end" fill="#595959" font-family='"Liberation Sans", sans-serif'>6</text>
<text x="407.0" y="457.7" font-size="68" text-anchor="end" fill="#595959" font-family='"Liberation Sans", sans-serif'>4</text>
<text x="407.0" y="558.4" font-size="68" text-anchor="end" fill="#595959" font-family='"Liberation Sans", sans-serif'>2</text>
<text x="407.0" y="659.0" font-size="68" text-anchor="end" fill="#595959" font-family='"Liberation Sans", sans-serif'>0</text>
<text x="407.0" y="759.7" font-size="68" text-anchor="end" fill="#595959" font-family='"Liberation Sans", sans-serif'>-2</text>
<text x="407.0" y="860.4" font-size="68" text-anchor="end" fill="#595959" font-family='"Liberation Sans", sans-serif'>-4</text>
<text x="407.0" y="961.1" font-size="68" text-anchor="end" fill="#595959" font-family='"Liberation Sans", sans-serif'>-6</text>
<text transform="translate(299.0,0) rotate(-90)" font-size="76.7" fill="#595959" style="font-kerning:none" font-family='"Liberation Sans", sans-serif'><tspan x="-1124.6" textLength="446.1" lengthAdjust="spacingAndGlyphs">Temperature</tspan> <tspan x="-658.2" textLength="299.9" lengthAdjust="spacingAndGlyphs">Anomaly</tspan></text>
<text y="1276.0" font-size="84" fill="#000" style="font-kerning:none" font-family='"Liberation Serif", serif'><tspan x="52.4" textLength="64.5" lengthAdjust="spacingAndGlyphs">a.</tspan></text>
<rect x="89.7" y="1301.0" width="2371.2" height="3.9" fill="#d9d9d9"/>
<rect x="89.7" y="1301.0" width="7.3" height="1199.4" fill="#d9d9d9"/>
<rect x="2453.0" y="1301.0" width="7.9" height="1199.4" fill="#d9d9d9"/>
<rect x="89.7" y="2493.0" width="2371.2" height="7.4" fill="#d9d9d9"/>
<text y="1474.7" font-size="107.5" fill="#595959" style="font-kerning:none" font-family='"Liberation Sans", sans-serif'><tspan x="470.1" textLength="385.1" lengthAdjust="spacingAndGlyphs">TRELEW</tspan> <tspan x="883.8" textLength="475.0" lengthAdjust="spacingAndGlyphs">60-Month</tspan> <tspan x="1387.4" textLength="391.7" lengthAdjust="spacingAndGlyphs">Running</tspan> <tspan x="1804.3" textLength="272.1" lengthAdjust="spacingAndGlyphs">Mean</tspan></text>
<rect x="511.7" y="1607.2" width="1852.9" height="7.0" fill="#d9d9d9"/>
<rect x="511.7" y="1731.6" width="1852.9" height="7.0" fill="#d9d9d9"/>
<rect x="511.7" y="1856.0" width="1852.9" height="7.0" fill="#d9d9d9"/>
<rect x="511.7" y="1980.4" width="1852.9" height="7.0" fill="#d9d9d9"/>
<clipPath id="cb"><rect x="511.7" y="1500" width="1900" height="700"/></clipPath>
<path d="M512.4 1999.2 L2348.0 1761.0" fill="none" stroke="#000" stroke-width="13.5" stroke-linejoin="round" stroke-linecap="round" stroke-dasharray="0 25.01" clip-path="url(#cb)"/>
<path d="M551.0 2031.7 L552.3 2028.8 L553.7 2022.1 L555.0 2012.3 L556.3 2015.9 L557.6 2008.5 L558.9 2004.0 L560.2 1998.5 L561.5 1999.6 L562.8 1998.1 L564.1 2003.4 L565.4 2000.9 L566.7 2003.2 L568.0 1998.2 L569.3 1998.9 L570.6 1989.2 L571.9 2005.1 L573.2 2002.3 L574.5 2005.5 L575.8 2012.3 L577.1 2006.3 L578.4 2008.2 L579.7 2009.7 L581.0 1999.0 L582.3 2012.3 L583.6 2004.8 L584.9 2002.1 L586.2 1987.7 L587.5 1986.4 L588.8 1995.0 L590.1 1984.2 L591.5 1983.4 L592.8 1985.9 L594.1 1988.7 L595.4 1976.2 L596.7 1993.2 L598.0 1990.7 L599.3 1995.2 L600.6 1986.0 L601.9 1990.7 L603.2 1995.3 L604.5 1987.0 L605.8 1984.1 L607.1 1984.6 L608.4 1983.9 L609.7 1989.3 L611.0 1986.4 L612.3 1994.4 L613.6 2014.7 L614.9 2011.9 L616.2 2015.6 L617.5 2034.9 L618.8 2020.6 L620.1 2026.4 L621.4 2015.1 L622.7 2010.7 L624.0 2010.7 L625.3 2004.5 L626.6 2004.2 L627.9 2006.5 L629.3 2005.4 L630.6 2021.2 L631.9 2037.7 L633.2 2036.4 L634.5 2041.1 L635.8 2046.8 L637.1 2044.5 L638.4 2045.8 L639.7 2036.5 L641.0 2048.3 L642.3 2052.5 L643.6 2052.8 L644.9 2063.5 L646.2 2055.4 L647.5 2064.9 L648.8 2061.2 L650.1 2062.8 L651.4 2072.1 L652.7 2066.3 L654.0 2056.4 L655.3 2051.0 L656.6 2037.6 L657.9 2030.6 L659.2 2012.3 L660.5 2000.4 L661.8 1992.2 L663.1 1994.6 L664.4 1993.4 L665.7 2004.7 L667.1 2003.5 L668.4 2011.0 L669.7 2022.5 L671.0 2018.7 L672.3 2020.0 L673.6 2018.3 L674.9 2007.2 L676.2 2000.6 L677.5 2006.5 L678.8 2004.6 L680.1 2012.0 L681.4 2006.2 L682.7 2017.1 L684.0 2021.2 L685.3 2023.2 L686.6 2032.7 L687.9 2035.8 L689.2 2041.2 L690.5 2048.6 L691.8 2043.0 L693.1 2036.9 L694.4 2027.7 L695.7 2023.7 L697.0 2023.9 L698.3 2021.3 L699.6 2015.2 L700.9 2018.5 L702.2 2019.2 L703.5 2017.1 L704.9 2019.9 L706.2 2032.8 L707.5 2032.9 L708.8 2027.5 L710.1 2026.6 L711.4 2015.3 L712.7 2016.8 L714.0 2011.4 L715.3 2018.7 L716.6 2028.0 L717.9 2032.7 L719.2 2026.1 L720.5 2015.8 L721.8 2019.3 L723.1 2013.7 L724.4 2020.0 L725.7 2020.5 L727.0 2014.5 L728.3 2012.0 L729.6 2009.4 L730.9 2009.3 L732.2 2007.4 L733.5 2015.5 L734.8 2012.9 L736.1 2006.9 L737.4 2008.4 L738.7 2011.3 L740.0 2000.0 L741.3 1989.5 L742.7 1998.7 L744.0 1990.8 L745.3 1993.0 L746.6 1991.9 L747.9 1999.2 L749.2 2007.3 L750.5 2000.9 L751.8 2007.3 L753.1 2003.3 L754.4 1995.6 L755.7 1997.5 L757.0 1996.7 L758.3 1988.0 L759.6 1996.6 L760.9 1986.8 L762.2 1996.5 L763.5 1994.2 L764.8 1992.7 L766.1 1988.2 L767.4 1984.3 L768.7 1972.6 L770.0 1973.8 L771.3 1966.4 L772.6 1963.1 L773.9 1960.3 L775.2 1952.0 L776.5 1945.0 L777.8 1951.7 L779.1 1950.6 L780.5 1953.7 L781.8 1951.9 L783.1 1964.5 L784.4 1960.3 L785.7 1968.5 L787.0 1953.0 L788.3 1950.7 L789.6 1949.2 L790.9 1942.0 L792.2 1934.8 L793.5 1934.7 L794.8 1935.0 L796.1 1936.4 L797.4 1940.5 L798.7 1938.1 L800.0 1935.5 L801.3 1936.5 L802.6 1928.1 L803.9 1938.0 L805.2 1942.7 L806.5 1945.1 L807.8 1955.9 L809.1 1955.5 L810.4 1952.8 L811.7 1959.3 L813.0 1950.8 L814.3 1950.6 L815.6 1943.8 L816.9 1958.9 L818.3 1960.2 L819.6 1971.0 L820.9 1977.6 L822.2 1974.9 L823.5 1967.6 L824.8 1962.8 L826.1 1970.2 L827.4 1959.5 L828.7 1961.6 L830.0 1959.6 L831.3 1950.2 L832.6 1958.6 L833.9 1958.3 L835.2 1989.7 L836.5 1997.8 L837.8 2008.9 L839.1 2010.0 L840.4 2015.3 L841.7 2009.3 L843.0 2010.8 L844.3 2015.8 L845.6 2008.4 L846.9 2001.8 L848.2 2006.5 L849.5 1997.5 L850.8 2007.0 L852.1 2016.6 L853.4 2010.4 L854.7 2018.5 L856.1 2019.7 L857.4 2028.5 L858.7 2032.8 L860.0 2028.5 L861.3 2022.8 L862.6 2012.2 L863.9 2012.7 L865.2 2011.0 L866.5 2012.5 L867.8 2000.4 L869.1 2016.8 L870.4 2012.6 L871.7 2012.3 L873.0 2029.3 L874.3 2025.7 L875.6 2020.3 L876.9 2025.4 L878.2 2026.8 L879.5 2018.2 L880.8 2029.7 L882.1 2015.8 L883.4 2013.1 L884.7 1997.6 L886.0 1985.9 L887.3 1993.1 L888.6 1996.4 L889.9 2002.1 L891.2 1997.5 L892.5 2003.3 L893.9 2011.8 L895.2 2012.8 L896.5 2017.0 L897.8 2025.9 L899.1 2023.2 L900.4 2041.5 L901.7 2035.2 L903.0 2035.2 L904.3 2026.4 L905.6 2024.8 L906.9 2011.5 L908.2 1986.6 L909.5 1981.4 L910.8 1981.9 L912.1 1977.8 L913.4 1985.4 L914.7 1979.7 L916.0 1978.1 L917.3 1968.6 L918.6 1961.7 L919.9 1954.0 L921.2 1959.0 L922.5 1948.0 L923.8 1947.5 L925.1 1952.3 L926.4 1950.6 L927.7 1942.3 L929.0 1945.8 L930.3 1943.5 L931.7 1952.3 L933.0 1946.2 L934.3 1948.0 L935.6 1945.3 L936.9 1946.2 L938.2 1951.4 L939.5 1944.3 L940.8 1948.1 L942.1 1945.1 L943.4 1945.0 L944.7 1940.5 L946.0 1950.1 L947.3 1937.8 L948.6 1938.8 L949.9 1941.5 L951.2 1942.9 L952.5 1939.2 L953.8 1935.4 L955.1 1940.0 L956.4 1937.6 L957.7 1938.8 L959.0 1948.1 L960.3 1933.2 L961.6 1940.6 L962.9 1941.3 L964.2 1937.1 L965.5 1936.4 L966.8 1941.4 L968.1 1935.2 L969.5 1927.9 L970.8 1928.6 L972.1 1925.9 L973.4 1916.9 L974.7 1910.2 L976.0 1907.6 L977.3 1901.2 L978.6 1900.1 L979.9 1898.7 L981.2 1889.8 L982.5 1886.4 L983.8 1900.1 L985.1 1897.9 L986.4 1894.7 L987.7 1893.8 L989.0 1901.4 L990.3 1902.8 L991.6 1903.0 L992.9 1901.4 L994.2 1897.0 L995.5 1896.1 L996.8 1890.5 L998.1 1894.6 L999.4 1899.1 L1000.7 1908.9 L1002.0 1902.4 L1003.3 1919.0 L1004.6 1918.4 L1005.9 1907.7 L1007.3 1902.4 L1008.6 1900.8 L1009.9 1896.5 L1011.2 1888.2 L1012.5 1868.1 L1013.8 1863.9 L1015.1 1857.4 L1016.4 1862.3 L1017.7 1865.0 L1019.0 1867.3 L1020.3 1873.4 L1021.6 1874.5 L1022.9 1883.4 L1024.2 1873.5 L1025.5 1864.8 L1026.8 1854.3 L1028.1 1850.0 L1029.4 1849.1 L1030.7 1847.0 L1032.0 1852.3 L1033.3 1852.7 L1034.6 1847.7 L1035.9 1842.0 L1037.2 1852.9 L1038.5 1851.2 L1039.8 1856.6 L1041.1 1866.8 L1042.4 1850.1 L1043.7 1850.0 L1045.1 1851.5 L1046.4 1855.7 L1047.7 1849.3 L1049.0 1843.1 L1050.3 1857.4 L1051.6 1863.2 L1052.9 1870.3 L1054.2 1870.3 L1055.5 1879.2 L1056.8 1873.0 L1058.1 1872.5 L1059.4 1867.3 L1060.7 1854.8 L1062.0 1852.4 L1063.3 1858.3 L1064.6 1849.6 L1065.9 1848.3 L1067.2 1851.6 L1068.5 1853.1 L1069.8 1853.8 L1071.1 1851.4 L1072.4 1860.7 L1073.7 1858.1 L1075.0 1855.2 L1076.3 1866.0 L1077.6 1853.2 L1078.9 1848.2 L1080.2 1853.9 L1081.5 1850.2 L1082.9 1861.5 L1084.2 1855.7 L1085.5 1864.3 L1086.8 1878.4 L1088.1 1880.5 L1089.4 1876.9 L1090.7 1882.9 L1092.0 1877.1 L1093.3 1867.5 L1094.6 1869.7 L1095.9 1868.6 L1097.2 1864.3 L1098.5 1869.6 L1099.8 1876.9 L1101.1 1875.2 L1102.4 1876.4 L1103.7 1882.4 L1105.0 1884.0 L1106.3 1878.2 L1107.6 1870.1 L1108.9 1862.9 L1110.2 1870.5 L1111.5 1867.0 L1112.8 1872.9 L1114.1 1870.7 L1115.4 1870.5 L1116.7 1875.0 L1118.0 1872.7 L1119.3 1878.0 L1120.7 1881.3 L1122.0 1882.2 L1123.3 1899.1 L1124.6 1902.9 L1125.9 1891.2 L1127.2 1887.0 L1128.5 1892.0 L1129.8 1881.2 L1131.1 1871.4 L1132.4 1860.6 L1133.7 1865.4 L1135.0 1856.3 L1136.3 1848.1 L1137.6 1856.6 L1138.9 1852.2 L1140.2 1857.0 L1141.5 1864.7 L1142.8 1856.0 L1144.1 1851.1 L1145.4 1844.8 L1146.7 1850.1 L1148.0 1843.8 L1149.3 1835.4 L1150.6 1838.2 L1151.9 1816.7 L1153.2 1816.0 L1154.5 1821.1 L1155.8 1819.6 L1157.1 1822.2 L1158.5 1824.9 L1159.8 1814.1 L1161.1 1805.2 L1162.4 1800.8 L1163.7 1799.3 L1165.0 1788.0 L1166.3 1787.9 L1167.6 1780.6 L1168.9 1775.1 L1170.2 1778.6 L1171.5 1775.5 L1172.8 1773.0 L1174.1 1772.7 L1175.4 1775.1 L1176.7 1772.4 L1178.0 1768.0 L1179.3 1765.2 L1180.6 1764.6 L1181.9 1762.6 L1183.2 1763.7 L1184.5 1766.1 L1185.8 1780.8 L1187.1 1787.5 L1188.4 1793.1 L1189.7 1782.3 L1191.0 1795.1 L1192.3 1796.2 L1193.6 1790.1 L1194.9 1801.5 L1196.3 1785.4 L1197.6 1788.2 L1198.9 1787.8 L1200.2 1788.4 L1201.5 1779.7 L1202.8 1773.6 L1204.1 1763.9 L1205.4 1765.2 L1206.7 1763.8 L1208.0 1760.6 L1209.3 1780.6 L1210.6 1774.3 L1211.9 1783.3 L1213.2 1785.2 L1214.5 1788.6 L1215.8 1791.0 L1217.1 1795.5 L1218.4 1797.6 L1219.7 1803.4 L1221.0 1810.6 L1222.3 1816.2 L1223.6 1816.1 L1224.9 1820.5 L1226.2 1823.3 L1227.5 1826.2 L1228.8 1832.2 L1230.1 1832.3 L1231.4 1827.2 L1232.7 1831.8 L1234.1 1834.7 L1235.4 1837.0 L1236.7 1844.7 L1238.0 1847.3 L1239.3 1848.0 L1240.6 1858.2 L1241.9 1853.3 L1243.2 1862.5 L1244.5 1869.4 L1245.8 1865.9 L1247.1 1864.7 L1248.4 1865.3 L1249.7 1874.2 L1251.0 1884.4 L1252.3 1900.2 L1253.6 1911.3 L1254.9 1915.3 L1256.2 1919.5 L1257.5 1913.7 L1258.8 1911.2 L1260.1 1916.7 L1261.4 1904.1 L1262.7 1897.9 L1264.0 1896.9 L1265.3 1898.7 L1266.6 1893.7 L1267.9 1893.0 L1269.2 1892.9 L1270.5 1900.7 L1271.9 1893.6 L1273.2 1893.4 L1274.5 1891.1 L1275.8 1878.2 L1277.1 1885.8 L1278.4 1881.8 L1279.7 1887.5 L1281.0 1884.0 L1282.3 1897.7 L1283.6 1895.8 L1284.9 1886.7 L1286.2 1891.6 L1287.5 1878.8 L1288.8 1883.9 L1290.1 1874.1 L1291.4 1879.6 L1292.7 1863.7 L1294.0 1867.8 L1295.3 1857.6 L1296.6 1861.5 L1297.9 1870.2 L1299.2 1873.8 L1300.5 1867.3 L1301.8 1871.1 L1303.1 1873.2 L1304.4 1866.9 L1305.7 1857.6 L1307.0 1872.4 L1308.3 1861.4 L1309.7 1879.1 L1311.0 1875.2 L1312.3 1871.0 L1313.6 1873.6 L1314.9 1872.2 L1316.2 1875.5 L1317.5 1873.4 L1318.8 1873.6 L1320.1 1883.3 L1321.4 1882.5 L1322.7 1883.0 L1324.0 1885.3 L1325.3 1889.1 L1326.6 1896.9 L1327.9 1890.1 L1329.2 1890.6 L1330.5 1877.4 L1331.8 1879.2 L1333.1 1879.0 L1334.4 1881.8 L1335.7 1886.7 L1337.0 1880.9 L1338.3 1887.2 L1339.6 1893.5 L1340.9 1900.8 L1342.2 1901.4 L1343.5 1899.1 L1344.8 1883.2 L1346.2 1880.1 L1347.5 1879.3 L1348.8 1871.3 L1350.1 1879.3 L1351.4 1875.1 L1352.7 1876.6 L1354.0 1880.2 L1355.3 1886.0 L1356.6 1879.1 L1357.9 1873.5 L1359.2 1880.5 L1360.5 1875.3 L1361.8 1872.7 L1363.1 1873.0 L1364.4 1882.2 L1365.7 1883.6 L1367.0 1887.0 L1368.3 1898.0 L1369.6 1907.0 L1370.9 1916.5 L1372.2 1913.3 L1373.5 1907.1 L1374.8 1905.1 L1376.1 1903.4 L1377.4 1910.8 L1378.7 1900.1 L1380.0 1907.0 L1381.3 1908.0 L1382.6 1915.6 L1384.0 1919.1 L1385.3 1919.5 L1386.6 1925.5 L1387.9 1920.3 L1389.2 1913.1 L1390.5 1908.2 L1391.8 1912.8 L1393.1 1907.2 L1394.4 1905.6 L1395.7 1899.1 L1397.0 1903.1 L1398.3 1900.4 L1399.6 1899.3 L1400.9 1894.8 L1402.2 1891.8 L1403.5 1883.3 L1404.8 1889.0 L1406.1 1882.7 L1407.4 1884.3 L1408.7 1870.9 L1410.0 1865.5 L1411.3 1866.1 L1412.6 1854.5 L1413.9 1854.7 L1415.2 1849.0 L1416.5 1845.7 L1417.8 1835.4 L1419.1 1847.4 L1420.4 1852.6 L1421.8 1853.0 L1423.1 1870.2 L1424.4 1862.8 L1425.7 1872.5 L1427.0 1884.6 L1428.3 1883.2 L1429.6 1879.4 L1430.9 1886.0 L1432.2 1886.8 L1433.5 1875.5 L1434.8 1884.1 L1436.1 1880.6 L1437.4 1883.4 L1438.7 1874.0 L1440.0 1864.9 L1441.3 1865.1 L1442.6 1871.6 L1443.9 1861.8 L1445.2 1868.4 L1446.5 1862.7 L1447.8 1854.2 L1449.1 1858.8 L1450.4 1856.5 L1451.7 1865.5 L1453.0 1871.8 L1454.3 1875.2 L1455.6 1889.1 L1456.9 1881.1 L1458.2 1875.1 L1459.6 1871.9 L1460.9 1865.7 L1462.2 1868.9 L1463.5 1871.0 L1464.8 1868.5 L1466.1 1884.0 L1467.4 1880.4 L1468.7 1881.8 L1470.0 1879.2 L1471.3 1895.0 L1472.6 1894.5 L1473.9 1900.5 L1475.2 1901.8 L1476.5 1910.9 L1477.8 1910.9 L1479.1 1918.8 L1480.4 1925.4 L1481.7 1924.4 L1483.0 1913.9 L1484.3 1905.2 L1485.6 1912.5 L1486.9 1920.8 L1488.2 1923.2 L1489.5 1931.4 L1490.8 1948.8 L1492.1 1940.6 L1493.4 1936.9 L1494.7 1940.5 L1496.0 1924.0 L1497.4 1911.9 L1498.7 1904.5 L1500.0 1901.5 L1501.3 1901.0 L1502.6 1897.3 L1503.9 1902.6 L1505.2 1891.8 L1506.5 1897.6 L1507.8 1913.5 L1509.1 1914.9 L1510.4 1907.1 L1511.7 1904.8 L1513.0 1895.9 L1514.3 1905.3 L1515.6 1897.6 L1516.9 1905.6 L1518.2 1903.0 L1519.5 1903.5 L1520.8 1902.4 L1522.1 1909.2 L1523.4 1910.7 L1524.7 1906.8 L1526.0 1903.2 L1527.3 1903.0 L1528.6 1900.7 L1529.9 1905.2 L1531.2 1886.2 L1532.5 1872.3 L1533.8 1867.7 L1535.2 1869.5 L1536.5 1875.2 L1537.8 1881.3 L1539.1 1872.8 L1540.4 1853.4 L1541.7 1851.2 L1543.0 1844.1 L1544.3 1840.3 L1545.6 1835.0 L1546.9 1839.5 L1548.2 1835.2 L1549.5 1839.5 L1550.8 1826.8 L1552.1 1826.9 L1553.4 1833.7 L1554.7 1833.6 L1556.0 1829.8 L1557.3 1834.9 L1558.6 1826.7 L1559.9 1828.1 L1561.2 1818.9 L1562.5 1817.3 L1563.8 1815.1 L1565.1 1810.9 L1566.4 1821.8 L1567.7 1817.5 L1569.0 1826.4 L1570.3 1828.8 L1571.6 1837.7 L1573.0 1858.5 L1574.3 1860.3 L1575.6 1870.5 L1576.9 1849.5 L1578.2 1847.4 L1579.5 1851.7 L1580.8 1845.4 L1582.1 1836.3 L1583.4 1847.1 L1584.7 1848.1 L1586.0 1838.2 L1587.3 1842.3 L1588.6 1845.5 L1589.9 1849.2 L1591.2 1849.9 L1592.5 1856.8 L1593.8 1853.4 L1595.1 1861.4 L1596.4 1859.0 L1597.7 1868.2 L1599.0 1874.4 L1600.3 1868.4 L1601.6 1879.8 L1602.9 1873.1 L1604.2 1876.3 L1605.5 1888.5 L1606.8 1899.1 L1608.1 1910.3 L1609.4 1910.9 L1610.8 1903.6 L1612.1 1906.0 L1613.4 1912.9 L1614.7 1911.5 L1616.0 1907.9 L1617.3 1912.4 L1618.6 1925.0 L1619.9 1927.4 L1621.2 1930.4 L1622.5 1928.0 L1623.8 1928.5 L1625.1 1931.7 L1626.4 1931.7 L1627.7 1940.6 L1629.0 1937.8 L1630.3 1935.2 L1631.6 1925.8 L1632.9 1927.1 L1634.2 1932.9 L1635.5 1927.0 L1636.8 1932.6 L1638.1 1925.8 L1639.4 1932.5 L1640.7 1942.4 L1642.0 1938.7 L1643.3 1947.1 L1644.6 1938.0 L1645.9 1937.6 L1647.2 1936.4 L1648.6 1924.5 L1649.9 1925.8 L1651.2 1917.9 L1652.5 1926.7 L1653.8 1917.0 L1655.1 1927.1 L1656.4 1942.9 L1657.7 1947.4 L1659.0 1945.4 L1660.3 1941.4 L1661.6 1946.3 L1662.9 1951.2 L1664.2 1953.9 L1665.5 1949.8 L1666.8 1947.0 L1668.1 1954.0 L1669.4 1942.2 L1670.7 1937.4 L1672.0 1928.1 L1673.3 1925.4 L1674.6 1929.6 L1675.9 1921.1 L1677.2 1923.8 L1678.5 1912.8 L1679.8 1913.1 L1681.1 1914.3 L1682.4 1916.1 L1683.7 1907.9 L1685.0 1914.9 L1686.4 1906.4 L1687.7 1905.0 L1689.0 1900.1 L1690.3 1903.5 L1691.6 1901.8 L1692.9 1882.8 L1694.2 1865.5 L1695.5 1863.7 L1696.8 1869.5 L1698.1 1867.6 L1699.4 1864.5 L1700.7 1861.4 L1702.0 1850.7 L1703.3 1849.4 L1704.6 1845.0 L1705.9 1837.9 L1707.2 1836.5 L1708.5 1840.8 L1709.8 1839.4 L1711.1 1831.6 L1712.4 1841.5 L1713.7 1842.9 L1715.0 1839.3 L1716.3 1841.5 L1717.6 1840.6 L1718.9 1833.2 L1720.2 1841.4 L1721.5 1840.0 L1722.8 1843.5 L1724.2 1843.0 L1725.5 1834.7 L1726.8 1840.2 L1728.1 1847.7 L1729.4 1818.8 L1730.7 1812.1 L1732.0 1805.6 L1733.3 1804.3 L1734.6 1792.9 L1735.9 1787.4 L1737.2 1780.9 L1738.5 1771.5 L1739.8 1762.7 L1741.1 1760.2 L1742.4 1768.8 L1743.7 1769.9 L1745.0 1759.5 L1746.3 1759.6 L1747.6 1766.5 L1748.9 1768.6 L1750.2 1779.7 L1751.5 1785.6 L1752.8 1777.7 L1754.1 1772.6 L1755.4 1781.1 L1756.7 1773.5 L1758.0 1776.7 L1759.3 1771.8 L1760.6 1782.5 L1762.0 1789.1 L1763.3 1779.7 L1764.6 1791.7 L1765.9 1789.7 L1767.2 1786.3 L1768.5 1782.1 L1769.8 1784.4 L1771.1 1775.9 L1772.4 1788.5 L1773.7 1788.8 L1775.0 1797.4 L1776.3 1812.8 L1777.6 1817.8 L1778.9 1834.4 L1780.2 1851.4 L1781.5 1848.2 L1782.8 1847.2 L1784.1 1843.6 L1785.4 1843.9 L1786.7 1852.3 L1788.0 1864.6 L1789.3 1862.5 L1790.6 1867.3 L1791.9 1862.7 L1793.2 1865.9 L1794.5 1858.8 L1795.8 1860.0 L1797.1 1857.9 L1798.4 1852.2 L1799.8 1861.2 L1801.1 1857.1 L1802.4 1858.7 L1803.7 1852.2 L1805.0 1859.7 L1806.3 1861.5 L1807.6 1869.6 L1808.9 1870.5 L1810.2 1880.5 L1811.5 1873.1 L1812.8 1882.7 L1814.1 1883.7 L1815.4 1878.3 L1816.7 1884.4 L1818.0 1888.8 L1819.3 1890.3 L1820.6 1893.7 L1821.9 1892.3 L1823.2 1891.0 L1824.5 1886.7 L1825.8 1855.4 L1827.1 1856.8 L1828.4 1858.0 L1829.7 1860.1 L1831.0 1863.4 L1832.3 1861.7 L1833.6 1864.9 L1834.9 1871.7 L1836.2 1880.0 L1837.6 1882.1 L1838.9 1882.2 L1840.2 1881.5 L1841.5 1883.6 L1842.8 1878.2 L1844.1 1878.0 L1845.4 1886.4 L1846.7 1882.0 L1848.0 1895.0 L1849.3 1893.5 L1850.6 1895.8 L1851.9 1896.6 L1853.2 1889.5 L1854.5 1883.8 L1855.8 1870.4 L1857.1 1864.8 L1858.4 1858.0 L1859.7 1836.2 L1861.0 1817.6 L1862.3 1818.1 L1863.6 1808.7 L1864.9 1806.5 L1866.2 1802.7 L1867.5 1796.3 L1868.8 1795.8 L1870.1 1789.5 L1871.4 1792.3 L1872.7 1787.6 L1874.0 1789.3 L1875.4 1782.4 L1876.7 1782.0 L1878.0 1781.4 L1879.3 1774.2 L1880.6 1773.5 L1881.9 1764.0 L1883.2 1757.3 L1884.5 1752.4 L1885.8 1748.5 L1887.1 1755.2 L1888.4 1748.2 L1889.7 1748.8 L1891.0 1745.3 L1892.3 1751.5 L1893.6 1754.6 L1894.9 1751.6 L1896.2 1749.4 L1897.5 1748.0 L1898.8 1759.0 L1900.1 1763.1 L1901.4 1764.1 L1902.7 1761.1 L1904.0 1759.6 L1905.3 1777.8 L1906.6 1767.5 L1907.9 1769.2 L1909.2 1764.8 L1910.5 1757.8 L1911.8 1754.9 L1913.2 1749.2 L1914.5 1737.9 L1915.8 1729.6 L1917.1 1735.8 L1918.4 1730.2 L1919.7 1721.9 L1921.0 1727.4 L1922.3 1709.4 L1923.6 1712.6 L1924.9 1709.2 L1926.2 1711.3 L1927.5 1719.9 L1928.8 1724.0 L1930.1 1736.5 L1931.4 1733.8 L1932.7 1732.8 L1934.0 1733.6 L1935.3 1728.1 L1936.6 1732.5 L1937.9 1733.0 L1939.2 1727.8 L1940.5 1728.2 L1941.8 1739.0 L1943.1 1746.9 L1944.4 1762.1 L1945.7 1758.5 L1947.0 1766.4 L1948.3 1761.0 L1949.6 1764.0 L1951.0 1764.6 L1952.3 1775.8 L1953.6 1793.6 L1954.9 1797.5 L1956.2 1801.7 L1957.5 1807.1 L1958.8 1809.6 L1960.1 1809.9 L1961.4 1819.5 L1962.7 1841.8 L1964.0 1847.7 L1965.3 1854.9 L1966.6 1849.0 L1967.9 1854.0 L1969.2 1839.4 L1970.5 1836.9 L1971.8 1830.3 L1973.1 1807.7 L1974.4 1811.8 L1975.7 1810.8 L1977.0 1811.3 L1978.3 1814.0 L1979.6 1814.1 L1980.9 1809.6 L1982.2 1811.9 L1983.5 1801.6 L1984.8 1789.0 L1986.1 1807.0 L1987.4 1813.5 L1988.8 1816.5 L1990.1 1825.8 L1991.4 1835.4 L1992.7 1846.3 L1994.0 1838.6 L1995.3 1836.9 L1996.6 1837.6 L1997.9 1826.9 L1999.2 1824.0 L2000.5 1817.9 L2001.8 1818.4 L2003.1 1813.4 L2004.4 1809.3 L2005.7 1800.3 L2007.0 1795.0 L2008.3 1797.5 L2009.6 1804.0 L2010.9 1808.8 L2012.2 1817.6 L2013.5 1825.5 L2014.8 1832.4 L2016.1 1821.3 L2017.4 1819.9 L2018.7 1809.7 L2020.0 1805.2 L2021.3 1803.7 L2022.6 1794.1 L2023.9 1800.0 L2025.2 1794.8 L2026.6 1791.2 L2027.9 1790.2 L2029.2 1794.0 L2030.5 1791.4 L2031.8 1804.4 L2033.1 1816.1 L2034.4 1822.2 L2035.7 1821.6 L2037.0 1828.9 L2038.3 1819.9 L2039.6 1810.4 L2040.9 1795.2 L2042.2 1830.3 L2043.5 1828.3 L2044.8 1839.5 L2046.1 1840.1 L2047.4 1839.3 L2048.7 1848.5 L2050.0 1856.5 L2051.3 1868.1 L2052.6 1872.4 L2053.9 1871.4 L2055.2 1876.0 L2056.5 1874.9 L2057.8 1887.8 L2059.1 1903.3 L2060.4 1899.6 L2061.7 1917.1 L2063.0 1918.8 L2064.4 1909.5 L2065.7 1907.6 L2067.0 1906.8 L2068.3 1907.9 L2069.6 1897.7 L2070.9 1896.3 L2072.2 1898.0 L2073.5 1891.7 L2074.8 1897.9 L2076.1 1898.1 L2077.4 1897.7 L2078.7 1912.8 L2080.0 1909.4 L2081.3 1915.9 L2082.6 1918.5 L2083.9 1915.4 L2085.2 1912.6 L2086.5 1902.6 L2087.8 1897.0 L2089.1 1893.4 L2090.4 1886.4 L2091.7 1881.2 L2093.0 1886.3 L2094.3 1893.2 L2095.6 1883.9 L2096.9 1891.8 L2098.2 1893.4 L2099.5 1897.5 L2100.8 1896.4 L2102.2 1901.3 L2103.5 1901.6 L2104.8 1891.3 L2106.1 1889.1 L2107.4 1894.0 L2108.7 1889.5 L2110.0 1881.0 L2111.3 1878.4 L2112.6 1865.8 L2113.9 1863.0 L2115.2 1869.5 L2116.5 1864.1 L2117.8 1876.6 L2119.1 1872.2 L2120.4 1875.7 L2121.7 1866.4 L2123.0 1852.0 L2124.3 1842.5 L2125.6 1835.3 L2126.9 1846.6 L2128.2 1838.6 L2129.5 1848.7 L2130.8 1840.7 L2132.1 1843.6 L2133.4 1839.6 L2134.7 1838.7 L2136.0 1836.1 L2137.3 1837.4 L2138.6 1826.8 L2140.0 1827.4 L2141.3 1825.6 L2142.6 1826.5 L2143.9 1828.8 L2145.2 1824.6 L2146.5 1819.1 L2147.8 1813.2 L2149.1 1814.2 L2150.4 1819.7 L2151.7 1817.5 L2153.0 1817.8 L2154.3 1825.6 L2155.6 1818.0 L2156.9 1833.4 L2158.2 1824.1 L2159.5 1831.4 L2160.8 1814.4 L2162.1 1814.8 L2163.4 1805.9 L2164.7 1794.9 L2166.0 1795.9 L2167.3 1791.1 L2168.6 1788.1 L2169.9 1786.2 L2171.2 1785.2 L2172.5 1787.7 L2173.8 1788.8 L2175.1 1782.6 L2176.4 1792.2 L2177.8 1804.2 L2179.1 1809.0 L2180.4 1801.3 L2181.7 1802.2 L2183.0 1793.4 L2184.3 1795.9 L2185.6 1786.3 L2186.9 1784.6 L2188.2 1787.9 L2189.5 1785.6 L2190.8 1787.9 L2192.1 1789.9 L2193.4 1789.4 L2194.7 1774.7 L2196.0 1761.0 L2197.3 1768.9 L2198.6 1766.6 L2199.9 1763.4 L2201.2 1752.4 L2202.5 1755.5 L2203.8 1753.4 L2205.1 1745.7 L2206.4 1743.4 L2207.7 1733.8 L2209.0 1733.5 L2210.3 1723.4 L2211.6 1733.5 L2212.9 1730.7 L2214.2 1726.5 L2215.6 1716.2 L2216.9 1710.3 L2218.2 1712.0 L2219.5 1698.6 L2220.8 1698.4 L2222.1 1696.0 L2223.4 1695.5 L2224.7 1706.2 L2226.0 1709.0 L2227.3 1713.4 L2228.6 1727.1 L2229.9 1711.1 L2231.2 1714.0 L2232.5 1704.5 L2233.8 1694.0 L2235.1 1705.0 L2236.4 1693.3 L2237.7 1707.1 L2239.0 1704.8 L2240.3 1707.7 L2241.6 1710.8 L2242.9 1721.7 L2244.2 1721.8 L2245.5 1739.2 L2246.8 1747.9 L2248.1 1750.7 L2249.4 1746.6 L2250.7 1741.0 L2252.0 1739.0 L2253.4 1735.3 L2254.7 1741.4 L2256.0 1734.7 L2257.3 1735.6 L2258.6 1721.7 L2259.9 1722.3 L2261.2 1713.2 L2262.5 1713.2 L2263.8 1709.9 L2265.1 1710.4 L2266.4 1706.7 L2267.7 1710.5 L2269.0 1704.5 L2270.3 1714.6 L2271.6 1718.5 L2272.9 1715.2 L2274.2 1720.6 L2275.5 1728.8 L2276.8 1723.8 L2278.1 1738.6 L2279.4 1730.8 L2280.7 1740.1 L2282.0 1735.7 L2283.3 1748.4 L2284.6 1747.4 L2285.9 1742.7 L2287.2 1756.8 L2288.5 1753.4 L2289.8 1760.8 L2291.2 1762.7 L2292.5 1757.0 L2293.8 1751.6 L2295.1 1744.1 L2296.4 1744.5 L2297.7 1745.6 L2299.0 1743.7 L2300.3 1738.9 L2301.6 1747.5 L2302.9 1732.7 L2304.2 1726.2 L2305.5 1715.5 L2306.8 1722.2 L2308.1 1715.6 L2309.4 1717.0 L2310.7 1717.8 L2312.0 1726.2 L2313.3 1713.3 L2314.6 1721.1 L2315.9 1721.4 L2317.2 1727.1 L2318.5 1727.8 L2319.8 1726.6 L2321.1 1729.0 L2322.4 1741.6 L2323.7 1752.7 L2325.0 1759.1 L2326.3 1768.7 L2326.9 1773.0" fill="none" stroke="#000" stroke-width="12" stroke-linejoin="round" stroke-linecap="round"/>
<rect x="508.2" y="1607.2" width="7.0" height="504.6" fill="#000"/>
<rect x="511.7" y="1607.2" width="24.3" height="7.0" fill="#000"/>
<rect x="511.7" y="1731.6" width="24.3" height="7.0" fill="#000"/>
<rect x="511.7" y="1856.0" width="24.3" height="7.0" fill="#000"/>
<rect x="511.7" y="1980.4" width="24.3" height="7.0" fill="#000"/>
<rect x="511.7" y="2104.8" width="24.3" height="7.0" fill="#000"/>
<rect x="508.2" y="2104.8" width="1856.4" height="7.0" fill="#000"/>
<text transform="translate(538.0,2155.7) rotate(-90)" font-size="68" text-anchor="end" fill="#595959" font-family='"Liberation Sans", sans-serif' textLength="286.0" lengthAdjust="spacingAndGlyphs">1901/1/1</text>
<rect x="617.7" y="2084.0" width="7.0" height="24.3" fill="#000"/>
<text transform="translate(647.5,2155.7) rotate(-90)" font-size="68" text-anchor="end" fill="#595959" font-family='"Liberation Sans", sans-serif' textLength="286.0" lengthAdjust="spacingAndGlyphs">1908/1/1</text>
<rect x="727.2" y="2084.0" width="7.0" height="24.3" fill="#000"/>
<text transform="translate(757.0,2155.7) rotate(-90)" font-size="68" text-anchor="end" fill="#595959" font-family='"Liberation Sans", sans-serif' textLength="286.0" lengthAdjust="spacingAndGlyphs">1915/1/1</text>
<rect x="836.7" y="2084.0" width="7.0" height="24.3" fill="#000"/>
<text transform="translate(866.5,2155.7) rotate(-90)" font-size="68" text-anchor="end" fill="#595959" font-family='"Liberation Sans", sans-serif' textLength="286.0" lengthAdjust="spacingAndGlyphs">1922/1/1</text>
<rect x="946.2" y="2084.0" width="7.0" height="24.3" fill="#000"/>
<text transform="translate(976.0,2155.7) rotate(-90)" font-size="68" text-anchor="end" fill="#595959" font-family='"Liberation Sans", sans-serif' textLength="286.0" lengthAdjust="spacingAndGlyphs">1929/1/1</text>
<rect x="1055.6" y="2084.0" width="7.0" height="24.3" fill="#000"/>
<text transform="translate(1085.4,2155.7) rotate(-90)" font-size="68" text-anchor="end" fill="#595959" font-family='"Liberation Sans", sans-serif' textLength="286.0" lengthAdjust="spacingAndGlyphs">1936/1/1</text>
<rect x="1165.1" y="2084.0" width="7.0" height="24.3" fill="#000"/>
<text transform="translate(1194.9,2155.7) rotate(-90)" font-size="68" text-anchor="end" fill="#595959" font-family='"Liberation Sans", sans-serif' textLength="286.0" lengthAdjust="spacingAndGlyphs">1943/1/1</text>
<rect x="1274.6" y="2084.0" width="7.0" height="24.3" fill="#000"/>
<text transform="translate(1304.4,2155.7) rotate(-90)" font-size="68" text-anchor="end" fill="#595959" font-family='"Liberation Sans", sans-serif' textLength="286.0" lengthAdjust="spacingAndGlyphs">1950/1/1</text>
<rect x="1384.1" y="2084.0" width="7.0" height="24.3" fill="#000"/>
<text transform="translate(1413.9,2155.7) rotate(-90)" font-size="68" text-anchor="end" fill="#595959" font-family='"Liberation Sans", sans-serif' textLength="286.0" lengthAdjust="spacingAndGlyphs">1957/1/1</text>
<rect x="1493.6" y="2084.0" width="7.0" height="24.3" fill="#000"/>
<text transform="translate(1523.4,2155.7) rotate(-90)" font-size="68" text-anchor="end" fill="#595959" font-family='"Liberation Sans", sans-serif' textLength="286.0" lengthAdjust="spacingAndGlyphs">1964/1/1</text>
<rect x="1603.1" y="2084.0" width="7.0" height="24.3" fill="#000"/>
<text transform="translate(1632.9,2155.7) rotate(-90)" font-size="68" text-anchor="end" fill="#595959" font-family='"Liberation Sans", sans-serif' textLength="286.0" lengthAdjust="spacingAndGlyphs">1971/1/1</text>
<rect x="1712.6" y="2084.0" width="7.0" height="24.3" fill="#000"/>
<text transform="translate(1742.4,2155.7) rotate(-90)" font-size="68" text-anchor="end" fill="#595959" font-family='"Liberation Sans", sans-serif' textLength="286.0" lengthAdjust="spacingAndGlyphs">1978/1/1</text>
<rect x="1822.1" y="2084.0" width="7.0" height="24.3" fill="#000"/>
<text transform="translate(1851.9,2155.7) rotate(-90)" font-size="68" text-anchor="end" fill="#595959" font-family='"Liberation Sans", sans-serif' textLength="286.0" lengthAdjust="spacingAndGlyphs">1985/1/1</text>
<rect x="1931.6" y="2084.0" width="7.0" height="24.3" fill="#000"/>
<text transform="translate(1961.4,2155.7) rotate(-90)" font-size="68" text-anchor="end" fill="#595959" font-family='"Liberation Sans", sans-serif' textLength="286.0" lengthAdjust="spacingAndGlyphs">1992/1/1</text>
<rect x="2041.1" y="2084.0" width="7.0" height="24.3" fill="#000"/>
<text transform="translate(2070.9,2155.7) rotate(-90)" font-size="68" text-anchor="end" fill="#595959" font-family='"Liberation Sans", sans-serif' textLength="286.0" lengthAdjust="spacingAndGlyphs">1999/1/1</text>
<rect x="2150.5" y="2084.0" width="7.0" height="24.3" fill="#000"/>
<text transform="translate(2180.3,2155.7) rotate(-90)" font-size="68" text-anchor="end" fill="#595959" font-family='"Liberation Sans", sans-serif' textLength="286.0" lengthAdjust="spacingAndGlyphs">2006/1/1</text>
<rect x="2260.0" y="2084.0" width="7.0" height="24.3" fill="#000"/>
<text transform="translate(2289.8,2155.7) rotate(-90)" font-size="68" text-anchor="end" fill="#595959" font-family='"Liberation Sans", sans-serif' textLength="286.0" lengthAdjust="spacingAndGlyphs">2013/1/1</text>
<text x="441.5" y="1631.7" font-size="68" text-anchor="end" fill="#595959" font-family='"Liberation Sans", sans-serif'>1</text>
<text x="441.5" y="1756.1" font-size="68" text-anchor="end" fill="#595959" font-family='"Liberation Sans", sans-serif'>0.5</text>
<text x="441.5" y="1880.5" font-size="68" text-anchor="end" fill="#595959" font-family='"Liberation Sans", sans-serif'>0</text>
<text x="441.5" y="2004.9" font-size="68" text-anchor="end" fill="#595959" font-family='"Liberation Sans", sans-serif'>-0.5</text>
<text x="441.5" y="2129.3" font-size="68" text-anchor="end" fill="#595959" font-family='"Liberation Sans", sans-serif'>-1</text>
<text transform="translate(276.5,0) rotate(-90)" font-size="76.7" fill="#595959" style="font-kerning:none" font-family='"Liberation Sans", sans-serif'><tspan x="-2399.2" textLength="446.1" lengthAdjust="spacingAndGlyphs">Temperature</tspan> <tspan x="-1932.7" textLength="296.4" lengthAdjust="spacingAndGlyphs">Anomaly</tspan></text>
<text y="2500.2" font-size="84" fill="#000" style="font-kerning:none" font-family='"Liberation Serif", serif'><tspan x="25.7" textLength="68.3" lengthAdjust="spacingAndGlyphs">b.</tspan></text>
<rect x="91.2" y="2525.7" width="2365.7" height="4.0" fill="#d9d9d9"/>
<rect x="91.2" y="2525.7" width="6.6" height="1230.9" fill="#d9d9d9"/>
<rect x="2449.1" y="2525.7" width="7.8" height="1230.9" fill="#d9d9d9"/>
<rect x="91.2" y="3750.0" width="2365.7" height="6.6" fill="#d9d9d9"/>
<text y="2699.0" font-size="107.5" fill="#595959" style="font-kerning:none" font-family='"Liberation Sans", sans-serif'><tspan x="602.3" textLength="166.5" lengthAdjust="spacingAndGlyphs">RIO</tspan> <tspan x="796.6" textLength="496.9" lengthAdjust="spacingAndGlyphs">GALLEGOS</tspan> <tspan x="1323.9" textLength="622.5" lengthAdjust="spacingAndGlyphs">Deasonalized</tspan></text>
<rect x="455.8" y="2832.5" width="1906.0" height="7.0" fill="#d9d9d9"/>
<rect x="455.8" y="2930.7" width="1906.0" height="7.0" fill="#d9d9d9"/>
<rect x="455.8" y="3028.8" width="1906.0" height="7.0" fill="#d9d9d9"/>
<rect x="455.8" y="3127.0" width="1906.0" height="7.0" fill="#d9d9d9"/>
<rect x="455.8" y="3225.1" width="1906.0" height="7.0" fill="#d9d9d9"/>
<rect x="455.8" y="3323.3" width="1906.0" height="7.0" fill="#d9d9d9"/>
<path d="M461.5 3020.4 L462.8 3051.7 L464.0 3020.5 L465.3 3025.0 L466.6 3057.1 L467.9 3027.1 L469.1 3104.7 L470.4 3025.0 L471.7 3045.5 L472.9 3068.7 L474.2 2964.7 L475.5 3002.0 L476.7 3033.1 L478.0 3040.7 L479.3 3066.6 L480.6 3057.5 L481.8 2992.6 L483.1 2970.9 L484.4 3012.7 L485.6 3010.2 L486.9 3036.2 L488.2 3056.2 L489.4 3008.7 L490.7 3064.5 L492.0 3005.2 L493.2 3008.1 L494.5 2961.6 L495.8 3057.4 L497.1 2969.2 L498.3 2957.4 L499.6 2864.2 L500.9 2925.4 L502.1 3198.1 L503.4 3001.8 L504.7 3112.2 L505.9 3041.9 L507.2 3063.7 L508.5 3054.3" fill="none" stroke="#000" stroke-width="11.5" stroke-linejoin="round" stroke-linecap="round"/>
<path d="M529.5 3046.5 L530.8 3041.7 L532.0 3047.9 L533.3 3026.8 L534.6 3020.7 L535.9 3007.9 L537.1 2952.3 L538.4 3099.1 L539.7 3062.8 L540.9 3112.6 L542.2 3055.6 L543.5 3043.2 L544.7 3043.1 L546.0 3067.7 L547.3 3214.1 L548.5 3280.1 L549.8 3233.5 L551.1 3216.2 L552.4 3043.6 L553.6 3171.3 L554.9 3088.2 L556.2 3205.6 L557.4 3083.3 L558.7 3179.0 L560.0 3152.0 L561.2 3067.9 L562.5 3162.7 L563.8 3065.1 L565.1 3191.9 L566.3 3015.0 L567.6 2995.0 L568.9 3012.4 L570.1 3041.8 L571.4 3099.0 L572.7 3101.2 L574.0 3052.3 L575.2 3150.2 L576.5 3070.8 L577.8 3147.8 L579.0 3008.0 L580.3 3119.6 L581.6 3042.4 L582.8 3074.5 L584.1 3075.3 L585.4 3201.7 L586.6 3259.4 L587.9 3062.8 L589.2 3166.9 L590.5 3064.3 L591.7 3182.9 L593.0 3084.9 L594.3 3138.6 L595.5 3075.5 L596.8 3151.7 L598.1 3065.5 L599.4 3122.8 L600.6 3094.2 L601.9 3099.1 L603.2 3132.7 L604.4 3098.1 L605.7 3175.8 L607.0 3029.7 L608.2 3092.3 L609.5 3123.0 L610.8 3196.0 L612.0 3077.4 L613.3 3276.4 L614.6 3118.5 L615.9 3168.0 L617.1 3037.4 L618.4 3075.1 L619.7 3176.2 L620.9 3110.4 L622.2 3132.0 L623.5 3100.4 L624.8 3012.7 L626.0 3127.3 L627.3 3078.1 L628.6 3174.9 L629.8 3108.1 L631.1 3054.2 L632.4 3157.9 L633.6 3146.2 L634.9 3042.1 L636.2 3130.9 L637.5 3201.2 L638.7 3017.9 L640.0 3164.6 L641.3 3111.9 L642.5 2998.4 L643.8 3107.2 L645.1 3024.5 L646.3 2927.6 L647.6 3012.9 L648.9 3138.0 L650.1 2991.9 L651.4 3149.2 L652.7 3118.3 L654.0 2978.6 L655.2 3118.7 L656.5 3070.6 L657.8 3030.9 L659.0 3123.0 L660.3 3092.2 L661.6 2967.8 L662.9 3128.0 L664.1 3117.6 L665.4 3125.3 L666.7 3044.0 L667.9 3099.3 L669.2 3018.2 L670.5 3157.3 L671.7 3068.4 L673.0 3014.8 L674.3 3049.4 L675.5 3103.7 L676.8 3099.0 L678.1 3027.8 L679.4 3048.7 L680.6 3123.6 L681.9 3006.5 L683.2 3086.2 L684.4 3131.6 L685.7 3129.3 L687.0 3080.1 L688.2 2996.0 L689.5 3082.5 L690.8 3017.1 L692.1 2933.8 L693.3 3152.9 L694.6 3224.4 L695.9 3000.0 L697.1 3127.6 L698.4 3060.0 L699.7 3137.4 L701.0 3051.0 L702.2 3147.0 L703.5 3066.5 L704.8 3020.2 L706.0 3116.3 L707.3 2991.2 L708.6 3190.4 L709.8 3052.9 L711.1 3154.5 L712.4 3008.5 L713.6 3135.2 L714.9 3044.6 L716.2 3110.3 L717.5 3018.1 L718.7 3096.4 L720.0 2983.9 L721.3 3109.9 L722.5 3031.1 L723.8 3106.8 L725.1 3037.3 L726.4 3071.2 L727.6 3038.2 L728.9 3093.8 L730.2 3040.9 L731.4 3094.4 L732.7 3049.4 L734.0 3106.9 L735.2 2998.8 L736.5 2984.8 L737.8 3033.3 L739.0 3089.0 L740.3 3028.5 L741.6 3162.5 L742.9 3019.1 L744.1 3099.0 L745.4 3003.7 L746.7 3092.3 L747.9 3000.1 L749.2 2974.0 L750.5 3174.9 L751.8 3132.7 L753.0 3012.6 L754.3 3072.6 L755.6 3022.2 L756.8 2997.2 L758.1 3068.5 L759.4 3064.5 L760.6 3065.1 L761.9 3016.4 L763.2 3017.3 L764.5 3043.4" fill="none" stroke="#000" stroke-width="11.5" stroke-linejoin="round" stroke-linecap="round"/>
<path d="M943.5 3162.5 L944.8 3087.8 L946.0 3035.9 L947.3 3090.1 L948.6 3033.1 L949.9 3109.0 L951.1 3053.9 L952.4 3107.9 L953.7 3008.2 L954.9 2977.1 L956.2 3019.8 L957.5 3166.5 L958.7 3112.5 L960.0 3042.9 L961.3 3136.5 L962.5 3064.8 L963.8 3143.2 L965.1 3041.2 L966.4 2987.0 L967.6 3055.5 L968.9 3069.6 L970.2 3120.8 L971.4 3072.7 L972.7 3215.1 L974.0 3071.6 L975.2 3149.5 L976.5 3061.0 L977.8 3015.8 L979.1 3050.6 L980.3 3086.9 L981.6 3203.6 L982.9 3035.5 L984.1 3229.0 L985.4 3066.5 L986.7 3177.2 L988.0 3014.5 L989.2 2998.1 L990.5 3161.1 L991.8 3053.9 L993.0 3050.1 L994.3 3092.2 L995.6 3053.4 L996.8 3007.4 L998.1 2991.9 L999.4 3044.2 L1000.6 3120.8 L1001.9 3031.9 L1003.2 3033.1 L1004.5 3109.3 L1005.7 3109.7 L1007.0 3036.2 L1008.3 3000.3 L1009.5 3045.7 L1010.8 3136.2 L1012.1 3030.8 L1013.4 3114.4 L1014.6 3022.3 L1015.9 3095.7 L1017.2 2991.0 L1018.4 3070.6 L1019.7 3023.0 L1021.0 3092.6 L1022.2 3122.3 L1023.5 3064.9 L1024.8 3009.5 L1026.0 3114.4 L1027.3 3012.3 L1028.6 2982.7 L1029.9 3052.2 L1031.1 3107.2 L1032.4 3033.9 L1033.7 3121.0 L1034.9 3023.1 L1036.2 3176.4 L1037.5 3131.1 L1038.8 3038.8 L1040.0 3113.5 L1041.3 3056.9 L1042.6 3011.7 L1043.8 3055.0 L1045.1 3128.7 L1046.4 3048.0 L1047.6 3102.5 L1048.9 3064.0 L1050.2 3126.3 L1051.5 3066.5 L1052.7 3137.8 L1054.0 3054.2 L1055.3 3064.6 L1056.5 3019.8 L1057.8 3051.2 L1059.1 3143.9 L1060.3 3073.2 L1061.6 3154.7 L1062.9 3061.6 L1064.2 3158.8 L1065.4 3102.9 L1066.7 3071.6 L1068.0 3198.8 L1069.2 3153.2 L1070.5 3232.1 L1071.8 3037.4 L1073.0 3063.9 L1074.3 3183.8 L1075.6 3164.4 L1076.8 3071.2 L1078.1 3117.6 L1079.4 2995.6 L1080.7 3061.1 L1081.9 3139.0 L1083.2 3174.9 L1084.5 3052.2 L1085.7 3152.5 L1087.0 3046.8 L1088.3 3044.8 L1089.5 3122.9 L1090.8 3056.8 L1092.1 3154.8 L1093.4 3058.4 L1094.6 3107.3 L1095.9 3080.6 L1097.2 3110.2 L1098.4 3114.5 L1099.7 3136.2 L1101.0 3118.8 L1102.2 3019.8 L1103.5 3052.9 L1104.8 3059.0 L1106.1 3120.5 L1107.3 3050.8 L1108.6 3066.6 L1109.9 3116.6 L1111.1 3134.6 L1112.4 3102.8 L1113.7 3143.9 L1115.0 3166.0 L1116.2 3078.9 L1117.5 3052.9 L1118.8 3116.8 L1120.0 3215.1 L1121.3 3111.9 L1122.6 3156.6 L1123.8 3075.1 L1125.1 3046.7 L1126.4 3070.5 L1127.7 3113.3 L1128.9 3051.8 L1130.2 3102.8 L1131.5 3127.0 L1132.7 3102.2 L1134.0 3094.8 L1135.3 3032.2 L1136.5 3077.3 L1137.8 3141.1 L1139.1 3083.4 L1140.3 3041.1 L1141.6 3154.1 L1142.9 3023.5 L1144.2 3160.3 L1145.4 3199.7 L1146.7 3063.1 L1148.0 3178.9 L1149.2 2993.2 L1150.5 2957.9 L1151.8 3058.0 L1153.0 3053.9 L1154.3 3099.0 L1155.6 3064.8 L1156.9 3077.3 L1158.1 3035.5 L1159.4 3176.4 L1160.7 3048.7 L1161.9 3141.9 L1163.2 3031.2 L1164.5 3130.2 L1165.8 3032.2 L1167.0 3088.4 L1168.3 3026.3 L1169.6 3034.8 L1170.8 2977.7 L1172.1 3052.0 L1173.4 2990.0 L1174.6 3083.6 L1175.9 3001.4 L1177.2 3063.9 L1178.5 3003.5 L1179.7 3007.8 L1181.0 3073.5 L1182.3 3081.5 L1183.5 3093.2 L1184.8 3105.3 L1186.1 2998.1 L1187.3 3010.2 L1188.6 3089.9 L1189.9 3053.7 L1191.2 3053.5 L1192.4 3146.9 L1193.7 3204.9 L1195.0 3011.1 L1196.2 3034.2 L1197.5 3134.2 L1198.8 3023.3 L1200.0 3085.6 L1201.3 3090.0 L1202.6 2969.4 L1203.8 3081.8 L1205.1 3019.2 L1206.4 3111.5 L1207.7 3016.2 L1208.9 3097.4 L1210.2 3019.7 L1211.5 3058.8 L1212.7 3032.0 L1214.0 3088.5 L1215.3 3040.6 L1216.5 3026.6 L1217.8 3125.0 L1219.1 3156.3 L1220.4 3055.3 L1221.6 3150.3 L1222.9 3048.0 L1224.2 3153.4 L1225.4 3007.4 L1226.7 3127.4 L1228.0 3074.5 L1229.2 3130.7 L1230.5 3082.2 L1231.8 3139.2 L1233.1 3205.8 L1234.3 3035.2 L1235.6 3122.2 L1236.9 3071.0 L1238.1 3054.5 L1239.4 3065.4 L1240.7 3149.9 L1242.0 2987.9 L1243.2 3008.3 L1244.5 3180.4 L1245.8 3123.1 L1247.0 3039.7 L1248.3 3201.2 L1249.6 3053.9 L1250.8 3094.9 L1252.1 3151.5 L1253.4 3015.8 L1254.7 3146.8 L1255.9 3081.4 L1257.2 3092.1 L1258.5 3253.8 L1259.7 3079.6 L1261.0 3170.3 L1262.3 3071.3 L1263.5 3059.2 L1264.8 3056.8 L1266.1 3132.3 L1267.3 3049.5 L1268.6 3137.8 L1269.9 3111.7 L1271.2 3070.9 L1272.4 3114.9 L1273.7 3117.6 L1275.0 3051.6 L1276.2 3001.2 L1277.5 3082.5 L1278.8 3137.8 L1280.0 3027.8 L1281.3 3112.9 L1282.6 3091.6 L1283.9 3029.7 L1285.1 3093.1 L1286.4 3055.9 L1287.7 3083.0 L1288.9 3111.5 L1290.2 3005.5 L1291.5 2978.6 L1292.8 3027.0 L1294.0 3074.4 L1295.3 3035.8 L1296.6 3072.6 L1297.8 3133.1 L1299.1 3025.6 L1300.4 3058.1 L1301.6 2957.9 L1302.9 3079.2 L1304.2 3003.9 L1305.5 3059.6 L1306.7 3070.9 L1308.0 3027.9 L1309.3 3068.0 L1310.5 3022.2 L1311.8 3062.6 L1313.1 3133.1 L1314.3 3003.0 L1315.6 3029.4 L1316.9 3090.1 L1318.2 2957.9 L1319.4 3094.0 L1320.7 3011.8 L1322.0 3078.6 L1323.2 2998.7 L1324.5 3009.6 L1325.8 3091.5 L1327.0 2983.3 L1328.3 3033.4 L1329.6 3105.3 L1330.8 3025.0 L1332.1 3013.8 L1333.4 3086.5 L1334.7 3030.1 L1335.9 3037.9 L1337.2 3023.2 L1338.5 3081.5 L1339.7 2987.9 L1341.0 3022.0 L1342.3 3077.7 L1343.5 3045.6 L1344.8 3067.1 L1346.1 3114.6 L1347.4 3100.6 L1348.6 3071.8 L1349.9 3078.5 L1351.2 3020.4 L1352.4 3105.8 L1353.7 3055.6 L1355.0 3106.6 L1356.2 3054.7 L1357.5 3121.4 L1358.8 3024.6 L1360.1 3105.9 L1361.3 3052.1 L1362.6 3085.8 L1363.9 3042.3 L1365.1 3120.3 L1366.4 2995.6 L1367.7 3088.0 L1369.0 3122.9 L1370.2 3151.7 L1371.5 3048.2 L1372.8 3111.2 L1374.0 3122.8 L1375.3 2991.2 L1376.6 2970.6 L1377.8 2952.3 L1379.1 3058.0 L1380.4 3007.2 L1381.7 2999.6 L1382.9 3067.6 L1384.2 2991.0 L1385.5 2966.3 L1386.7 3127.6 L1388.0 3093.1 L1389.3 3030.8 L1390.5 3085.5 L1391.8 3025.2 L1393.1 2994.1 L1394.3 3095.8 L1395.6 3032.4 L1396.9 3051.5 L1398.2 3114.1 L1399.4 3031.8 L1400.7 3102.8 L1402.0 3185.7 L1403.2 3140.5 L1404.5 2985.6 L1405.8 3092.6 L1407.0 2999.8 L1408.3 3152.2 L1409.6 2947.7 L1410.9 3101.3 L1412.1 2989.7 L1413.4 3141.1 L1414.7 3161.9 L1415.9 3151.1 L1417.2 3049.4 L1418.5 3192.7 L1419.8 3081.1 L1421.0 3243.0 L1422.3 3035.9 L1423.6 3158.2 L1424.8 3055.8 L1426.1 3117.7 L1427.4 3160.6 L1428.6 3022.6 L1429.9 3083.4 L1431.2 2978.6 L1432.5 3133.1 L1433.7 3024.2 L1435.0 3076.8 L1436.3 3036.8 L1437.5 3107.5 L1438.8 2996.3 L1440.1 2967.8 L1441.3 3117.8 L1442.6 3022.1 L1443.9 3011.6 L1445.2 3134.7 L1446.4 3019.0 L1447.7 3112.9 L1449.0 3017.2 L1450.2 3132.7 L1451.5 3056.7 L1452.8 3004.9 L1454.0 3161.0 L1455.3 3045.1 L1456.6 3133.4 L1457.8 3024.5 L1459.1 3097.9 L1460.4 3011.7 L1461.7 3077.7 L1462.9 3012.8 L1464.2 3088.5 L1465.5 3098.6 L1466.7 2996.0 L1468.0 3079.2 L1469.3 2988.8 L1470.5 2928.2 L1471.8 3020.2 L1473.1 3072.4 L1474.4 3014.1 L1475.6 3079.0 L1476.9 3012.5 L1478.2 3101.6 L1479.4 2955.4 L1480.7 3112.4 L1482.0 3129.4 L1483.2 3000.5 L1484.5 2994.1 L1485.8 3079.7 L1487.1 3026.0 L1488.3 2978.6 L1489.6 3016.0 L1490.9 3125.6 L1492.1 3031.2 L1493.4 3133.3 L1494.7 3046.1 L1496.0 3091.1 L1497.2 3065.2 L1498.5 3122.4 L1499.8 3189.4 L1501.0 3108.7 L1502.3 3038.2 L1503.6 2976.5 L1504.8 3093.5 L1506.1 3018.0 L1507.4 3102.2 L1508.7 3033.9 L1509.9 3067.9 L1511.2 2989.7 L1512.5 3119.2 L1513.7 3075.8 L1515.0 3075.4 L1516.3 3081.9 L1517.5 3066.4 L1518.8 3025.7 L1520.1 3109.0 L1521.3 3130.0 L1522.6 3067.8 L1523.9 3041.5 L1525.2 3094.8 L1526.4 3110.6 L1527.7 2971.5 L1529.0 3106.6 L1530.2 3057.1 L1531.5 3170.9 L1532.8 3026.9 L1534.0 3121.2 L1535.3 3023.5 L1536.6 3088.2 L1537.9 2998.8 L1539.1 3099.8 L1540.4 3091.6 L1541.7 3094.5 L1542.9 3008.1 L1544.2 3055.9 L1545.5 3049.6 L1546.8 3015.9 L1548.0 3066.8 L1549.3 2994.2 L1550.6 2950.8 L1551.8 3047.9 L1553.1 2972.0 L1554.4 3031.1 L1555.6 3077.5 L1556.9 2957.8 L1558.2 3021.9 L1559.5 2960.1 L1560.7 2909.0 L1562.0 3060.0 L1563.3 3044.7 L1564.5 2976.2 L1565.8 3055.8 L1567.1 3097.6 L1568.3 3033.4 L1569.6 3038.2 L1570.9 2999.6 L1572.2 3057.2 L1573.4 3003.2 L1574.7 3068.1 L1576.0 3022.3 L1577.2 2992.6 L1578.5 3003.3 L1579.8 3077.2 L1581.0 3090.4 L1582.3 2997.8 L1583.6 3051.0 L1584.8 3019.0 L1586.1 3091.4 L1587.4 3054.7 L1588.7 3005.4 L1589.9 3080.2 L1591.2 2972.4 L1592.5 3102.5 L1593.7 3022.0 L1595.0 3079.6 L1596.3 3012.3 L1597.5 3084.2 L1598.8 3147.1 L1600.1 3014.6 L1601.4 3018.1 L1602.6 3117.4 L1603.9 3034.5 L1605.2 3086.0 L1606.4 3021.1 L1607.7 2982.7 L1609.0 3040.6 L1610.2 3110.3 L1611.5 3106.3 L1612.8 3147.1 L1614.1 3119.5 L1615.3 3040.7 L1616.6 3110.5 L1617.9 2972.4 L1619.1 3089.9 L1620.4 2996.2 L1621.7 3090.1 L1623.0 3077.8 L1624.2 3140.9 L1625.5 3095.4 L1626.8 3038.7 L1628.0 2966.3 L1629.3 2985.2 L1630.6 3086.7 L1631.8 3030.8 L1633.1 3108.1 L1634.4 3050.3 L1635.7 3080.5 L1636.9 3139.9 L1638.2 3099.4 L1639.5 3089.6 L1640.7 2992.6 L1642.0 3083.5 L1643.3 3020.0 L1644.5 3074.4 L1645.8 3076.9 L1647.1 3030.7 L1648.3 3105.9 L1649.6 3024.8 L1650.9 3123.9 L1652.2 3015.6 L1653.4 3061.7 L1654.7 3018.9 L1656.0 3088.0 L1657.2 3003.8 L1658.5 3013.7 L1659.8 3018.0 L1661.0 2974.0 L1662.3 3065.1 L1663.6 3075.9 L1664.9 3036.1 L1666.1 2996.7 L1667.4 3060.9 L1668.7 3028.9 L1669.9 3009.9 L1671.2 3071.3 L1672.5 3075.5 L1673.8 3003.0 L1675.0 3104.8 L1676.3 3026.7 L1677.6 3137.8 L1678.8 3047.4 L1680.1 2975.5 L1681.4 3003.2 L1682.6 3126.0 L1683.9 3042.7 L1685.2 3119.2 L1686.5 3061.6 L1687.7 3067.4 L1689.0 3120.1 L1690.3 3165.6 L1691.5 3043.0 L1692.8 3097.2 L1694.1 3021.4 L1695.3 3106.6 L1696.6 3017.3 L1697.9 3073.9 L1699.2 3085.7 L1700.4 3025.7 L1701.7 3081.2 L1703.0 3058.4 L1704.2 3005.1 L1705.5 3053.0 L1706.8 2968.4 L1708.0 3047.7 L1709.3 2997.5 L1710.6 2997.8 L1711.8 3042.9 L1713.1 3048.1 L1714.4 2983.6 L1715.7 3062.6 L1716.9 2996.2 L1718.2 3058.3 L1719.5 3076.8 L1720.7 3058.9 L1722.0 3024.0 L1723.3 2986.8 L1724.5 3024.4 L1725.8 2927.6 L1727.1 3048.0 L1728.4 2961.9 L1729.6 2972.3 L1730.9 3035.5 L1732.2 2953.9 L1733.4 3100.7 L1734.7 3062.5 L1736.0 2998.1 L1737.2 3018.7 L1738.5 3083.9 L1739.8 3096.4 L1741.1 3145.5 L1742.3 3113.0 L1743.6 3023.1 L1744.9 3097.4 L1746.1 2987.0 L1747.4 3078.1 L1748.7 3019.7 L1750.0 3095.4 L1751.2 3021.1 L1752.5 3076.6 L1753.8 2979.6 L1755.0 3062.7 L1756.3 2966.6 L1757.6 2998.9 L1758.8 2947.7 L1760.1 2965.8 L1761.4 2948.9 L1762.7 3011.9 L1763.9 2952.6 L1765.2 3023.9 L1766.5 3034.8 L1767.7 2918.3 L1769.0 2942.7 L1770.3 3056.1 L1771.5 2983.0 L1772.8 3093.4 L1774.1 2938.4 L1775.3 3210.5 L1776.6 3049.5 L1777.9 3112.7 L1779.2 2980.0 L1780.4 3110.1 L1781.7 3008.9 L1783.0 2977.1 L1784.2 3038.9 L1785.5 3074.4 L1786.8 2981.6 L1788.1 3055.3 L1789.3 3014.7 L1790.6 2988.9 L1791.9 3009.3 L1793.1 3049.5 L1794.4 3009.4 L1795.7 3115.0 L1796.9 2943.1 L1798.2 3131.7 L1799.5 2967.4 L1800.8 3118.6 L1802.0 3025.2 L1803.3 3097.6 L1804.6 3205.8 L1805.8 3173.1 L1807.1 2968.4 L1808.4 3124.7 L1809.6 2973.3 L1810.9 3063.2 L1812.2 2939.8 L1813.5 2923.9 L1814.7 2943.7 L1816.0 3055.4 L1817.3 3079.0 L1818.5 3028.3 L1819.8 2988.9 L1821.1 3025.8 L1822.3 2962.0 L1823.6 2942.4 L1824.9 3005.0 L1826.2 3047.0 L1827.4 2991.8 L1828.7 3058.4 L1830.0 2974.3 L1831.2 3058.9 L1832.5 3090.4 L1833.8 3057.7 L1835.0 2963.2 L1836.3 3069.5 L1837.6 3046.8 L1838.8 2999.7 L1840.1 2946.8 L1841.4 3026.1 L1842.7 2989.7 L1843.9 2960.3 L1845.2 3058.1 L1846.5 2984.3 L1847.7 3022.7 L1849.0 2964.2 L1850.3 2945.5 L1851.6 3077.5 L1852.8 3027.4 L1854.1 2959.2 L1855.4 3052.7 L1856.6 2982.4 L1857.9 3050.0 L1859.2 2968.6 L1860.4 3032.3 L1861.7 2930.1 L1863.0 2984.7 L1864.2 3032.9 L1865.5 2958.4 L1866.8 3024.3 L1868.1 2951.7 L1869.3 3028.0 L1870.6 3076.8 L1871.9 3029.8 L1873.1 2991.7 L1874.4 3028.5 L1875.7 2988.4 L1877.0 2960.1 L1878.2 3027.0 L1879.5 2996.5 L1880.8 3063.7 L1882.0 2999.9 L1883.3 3038.5 L1884.6 3003.1 L1885.8 3065.5 L1887.1 2968.2 L1888.4 2933.8 L1889.7 3048.1 L1890.9 2966.4 L1892.2 3091.4 L1893.5 3052.4 L1894.7 2967.6 L1896.0 3049.4 L1897.3 2918.3 L1898.5 3015.5 L1899.8 3035.2 L1901.1 2977.4 L1902.3 3022.8 L1903.6 3079.9 L1904.9 3001.9 L1906.2 3066.5 L1907.4 3000.0 L1908.7 3059.1 L1910.0 2979.6 L1911.2 3082.2 L1912.5 3060.5 L1913.8 2999.4 L1915.1 3079.4 L1916.3 2994.6 L1917.6 3078.3 L1918.9 3152.3 L1920.1 2929.1 L1921.4 3083.2 L1922.7 3020.3 L1923.9 2974.9 L1925.2 3091.8 L1926.5 3027.1 L1927.8 3141.8 L1929.0 2987.3 L1930.3 2981.7 L1931.6 3040.4 L1932.8 3098.5 L1934.1 3035.5 L1935.4 3109.4 L1936.6 3007.2 L1937.9 3066.7 L1939.2 2969.8 L1940.5 3091.0 L1941.7 3136.2 L1943.0 2923.9 L1944.3 2980.6 L1945.5 3078.8 L1946.8 2982.3 L1948.1 3000.4 L1949.3 3046.5 L1950.6 2972.7 L1951.9 3079.8 L1953.2 3089.8 L1954.4 3035.7 L1955.7 3003.2 L1957.0 2967.8 L1958.2 2992.3 L1959.5 3067.7 L1960.8 3006.0 L1962.0 3105.9 L1963.3 3014.6 L1964.6 3105.2 L1965.8 3022.5 L1967.1 3076.5 L1968.4 3060.9 L1969.7 2946.8 L1970.9 3113.1 L1972.2 3109.8 L1973.5 2995.2 L1974.7 3190.4 L1976.0 3132.6 L1977.3 2966.9 L1978.5 3098.4 L1979.8 2949.5 L1981.1 2978.7 L1982.4 3093.2 L1983.6 3092.9 L1984.9 3013.2 L1986.2 2891.4 L1987.4 3052.2 L1988.7 2931.9 L1990.0 3024.1 L1991.2 2967.9 L1992.5 3076.2 L1993.8 2950.8 L1995.1 3054.3 L1996.3 3093.4 L1997.6 3103.7 L1998.9 3078.7 L2000.1 2988.8 L2001.4 2994.6 L2002.7 3066.4 L2004.0 3009.9 L2005.2 3043.9 L2006.5 3072.3 L2007.8 3008.6 L2009.0 3088.3 L2010.3 2949.2 L2011.6 2984.3 L2012.8 3017.3 L2014.1 3043.0 L2015.4 2940.8 L2016.7 2917.6 L2017.9 2999.8 L2019.2 2849.6 L2020.5 3048.1 L2021.7 3015.4 L2023.0 2945.5 L2024.3 3031.0 L2025.5 2947.1 L2026.8 3040.6 L2028.1 2978.6 L2029.3 2980.3 L2030.6 2981.7 L2031.9 3111.5 L2033.2 3082.0 L2034.4 3028.5 L2035.7 2994.3 L2037.0 3051.8 L2038.2 2991.6 L2039.5 2955.4 L2040.8 2989.0 L2042.0 3088.3 L2043.3 3001.7 L2044.6 3050.9 L2045.9 3010.3 L2047.1 3028.6 L2048.4 2995.0 L2049.7 3033.4 L2050.9 3132.1 L2052.2 3170.3 L2053.5 3141.7 L2054.8 3059.9 L2056.0 3102.6 L2057.3 3131.0 L2058.6 3031.7 L2059.8 3005.5 L2061.1 3035.5 L2062.4 3091.2 L2063.6 3050.7 L2064.9 3140.9 L2066.2 3101.0 L2067.4 3028.3 L2068.7 3112.5 L2070.0 3031.4 L2071.3 2992.6 L2072.5 3137.8 L2073.8 3031.2 L2075.1 3061.6 L2076.3 3145.4 L2077.6 3173.4 L2078.9 3112.9 L2080.2 3049.8 L2081.4 3103.3 L2082.7 3016.8 L2084.0 3103.6 L2085.2 2998.7 L2086.5 3067.2 L2087.8 3103.7 L2089.0 2979.3 L2090.3 3065.7 L2091.6 2963.2 L2092.8 3060.9 L2094.1 2875.0 L2095.4 2931.3 L2096.7 3024.2 L2097.9 2938.5 L2099.2 3041.1 L2100.5 3105.3 L2101.7 3060.5 L2103.0 2973.4 L2104.3 3010.4 L2105.6 3016.2 L2106.8 3040.0 L2108.1 2889.8 L2109.4 2924.1 L2110.6 2928.4 L2111.9 3057.3 L2113.2 2931.6 L2114.4 3059.0 L2115.7 2930.4 L2117.0 3039.0 L2118.2 2967.8 L2119.5 2920.8 L2120.8 2996.5 L2122.1 3093.5 L2123.3 3006.7 L2124.6 3151.1 L2125.9 2981.3 L2127.1 3103.1 L2128.4 2963.2 L2129.7 3080.8 L2130.9 3008.3 L2132.2 3065.5 L2133.5 3040.6 L2134.8 3075.1 L2136.0 2961.0 L2137.3 3055.0 L2138.6 3071.3 L2139.8 3057.6 L2141.1 3005.3 L2142.4 3054.9 L2143.7 3001.4 L2144.9 3047.7 L2146.2 3051.2 L2147.5 2994.1 L2148.7 3056.1 L2150.0 3083.0 L2151.3 3059.6 L2152.5 3076.7 L2153.8 3015.8 L2155.1 3049.6 L2156.3 2981.7 L2157.6 3052.7 L2158.9 2991.8 L2160.2 3105.3 L2161.4 3001.3 L2162.7 3017.2 L2164.0 3078.6 L2165.2 3096.1 L2166.5 2949.9 L2167.8 3023.4 L2169.1 3075.2 L2170.3 2992.6 L2171.6 3136.2 L2172.9 2986.9 L2174.1 3084.0 L2175.4 3013.9 L2176.7 2953.9 L2177.9 2986.5 L2179.2 3025.8 L2180.5 3045.0 L2181.8 2966.6 L2183.0 3054.5 L2184.3 2977.4 L2185.6 2943.7 L2186.8 3030.9 L2188.1 2991.6 L2189.4 3091.7 L2190.6 3218.2 L2191.9 3177.8 L2193.2 3057.7 L2194.4 3125.9 L2195.7 3018.0 L2197.0 3001.3 L2198.3 3090.2 L2199.5 2971.5 L2200.8 2994.3 L2202.1 3065.7 L2203.3 3000.7 L2204.6 3068.1 L2205.9 3006.9 L2207.2 3092.9 L2208.4 3072.4 L2209.7 3010.8 L2211.0 3042.9 L2212.2 3011.2 L2213.5 2970.9 L2214.8 2986.6 L2216.0 3048.8 L2217.3 3058.9 L2218.6 3042.4 L2219.8 2981.6 L2221.1 3076.3 L2222.4 2988.9 L2223.7 2954.8 L2224.9 3074.9 L2226.2 3147.1 L2227.5 3103.8 L2228.7 2996.8 L2230.0 3027.6 L2231.3 2987.0 L2232.6 2948.6 L2233.8 2974.2 L2235.1 3016.0 L2236.4 2982.7 L2237.6 3092.2 L2238.9 3141.8 L2240.2 3054.7 L2241.4 3011.6 L2242.7 3094.8 L2244.0 2956.9 L2245.2 2971.4 L2246.5 2914.6 L2247.8 2960.1 L2249.1 3020.0 L2250.3 3101.1 L2251.6 2979.0 L2252.9 3065.6 L2254.1 3117.1 L2255.4 2996.3 L2256.7 3015.7 L2257.9 3063.0 L2259.2 3065.8 L2260.5 3026.2 L2261.8 3071.5 L2263.0 3044.1 L2264.3 2978.6 L2265.6 3058.6 L2266.8 3014.3 L2268.1 3011.8 L2269.4 3068.8 L2270.7 2971.8 L2271.9 3023.6 L2273.2 2979.5 L2274.5 3049.6 L2275.7 2943.7 L2277.0 2997.2 L2278.3 3036.1 L2279.5 3046.6 L2280.8 2968.0 L2282.1 3086.7 L2283.3 3033.9 L2284.6 3004.8 L2285.9 3079.2 L2287.2 2940.6 L2288.4 3041.6 L2289.7 3105.9 L2291.0 3027.3 L2292.2 2914.6 L2293.5 3057.2 L2294.8 2953.7 L2296.1 3037.0 L2297.3 2999.8 L2298.6 3047.3 L2299.9 2970.9 L2301.1 3000.7 L2302.4 3032.8 L2303.7 2964.5 L2304.9 3057.4 L2306.2 3067.6 L2307.5 2903.8 L2308.8 2884.3 L2310.0 2922.6 L2311.3 3007.9 L2312.6 3038.6 L2313.8 2981.1 L2315.1 3039.8 L2316.4 3068.8 L2317.6 2965.2 L2318.9 2949.2 L2320.2 3031.8 L2321.4 3001.6 L2322.7 3049.3 L2324.0 3043.2 L2325.3 2992.7 L2326.5 3029.5 L2327.8 2972.4 L2329.1 2994.7 L2330.3 3072.8 L2331.6 3054.4 L2332.9 2961.6 L2334.2 2965.9 L2335.4 3053.8 L2336.7 3035.0 L2338.0 2919.2 L2339.2 3011.6 L2340.5 2968.3 L2341.8 3070.6 L2343.0 3048.5 L2344.3 2978.2 L2345.6 3061.9 L2346.8 2992.4 L2348.1 3076.6 L2349.4 2950.8 L2350.7 3056.5 L2351.9 2977.8 L2353.2 3069.3 L2354.5 3161.0 L2355.7 3096.2 L2357.0 3093.1 L2358.3 3047.3 L2359.6 2957.0 L2360.8 3045.2 L2362.1 3037.2 L2363.4 3011.1" fill="none" stroke="#000" stroke-width="11.5" stroke-linejoin="round" stroke-linecap="round"/>
<rect x="452.3" y="2832.5" width="7.0" height="494.3" fill="#000"/>
<rect x="455.8" y="2832.5" width="25.2" height="7.0" fill="#000"/>
<rect x="455.8" y="2930.7" width="25.2" height="7.0" fill="#000"/>
<rect x="455.8" y="3028.8" width="25.2" height="7.0" fill="#000"/>
<rect x="455.8" y="3127.0" width="25.2" height="7.0" fill="#000"/>
<rect x="455.8" y="3225.1" width="25.2" height="7.0" fill="#000"/>
<text transform="translate(482.5,3374.0) rotate(-90)" font-size="68" text-anchor="end" fill="#595959" font-family='"Liberation Sans", sans-serif' textLength="286.0" lengthAdjust="spacingAndGlyphs">1/1/1896</text>
<text transform="translate(577.8,3374.0) rotate(-90)" font-size="68" text-anchor="end" fill="#595959" font-family='"Liberation Sans", sans-serif' textLength="286.0" lengthAdjust="spacingAndGlyphs">1/4/1902</text>
<text transform="translate(673.1,3374.0) rotate(-90)" font-size="68" text-anchor="end" fill="#595959" font-family='"Liberation Sans", sans-serif' textLength="286.0" lengthAdjust="spacingAndGlyphs">1/7/1908</text>
<text transform="translate(768.4,3374.0) rotate(-90)" font-size="68" text-anchor="end" fill="#595959" font-family='"Liberation Sans", sans-serif' textLength="322.0" lengthAdjust="spacingAndGlyphs">1/10/1914</text>
<text transform="translate(863.7,3374.0) rotate(-90)" font-size="68" text-anchor="end" fill="#595959" font-family='"Liberation Sans", sans-serif' textLength="286.0" lengthAdjust="spacingAndGlyphs">1/1/1921</text>
<text transform="translate(959.0,3374.0) rotate(-90)" font-size="68" text-anchor="end" fill="#595959" font-family='"Liberation Sans", sans-serif' textLength="286.0" lengthAdjust="spacingAndGlyphs">1/4/1927</text>
<text transform="translate(1054.3,3374.0) rotate(-90)" font-size="68" text-anchor="end" fill="#595959" font-family='"Liberation Sans", sans-serif' textLength="286.0" lengthAdjust="spacingAndGlyphs">1/7/1933</text>
<text transform="translate(1149.6,3374.0) rotate(-90)" font-size="68" text-anchor="end" fill="#595959" font-family='"Liberation Sans", sans-serif' textLength="322.0" lengthAdjust="spacingAndGlyphs">1/10/1939</text>
<text transform="translate(1244.9,3374.0) rotate(-90)" font-size="68" text-anchor="end" fill="#595959" font-family='"Liberation Sans", sans-serif' textLength="286.0" lengthAdjust="spacingAndGlyphs">1/1/1946</text>
<text transform="translate(1340.2,3374.0) rotate(-90)" font-size="68" text-anchor="end" fill="#595959" font-family='"Liberation Sans", sans-serif' textLength="286.0" lengthAdjust="spacingAndGlyphs">1/4/1952</text>
<text transform="translate(1435.5,3374.0) rotate(-90)" font-size="68" text-anchor="end" fill="#595959" font-family='"Liberation Sans", sans-serif' textLength="286.0" lengthAdjust="spacingAndGlyphs">1/7/1958</text>
<text transform="translate(1530.8,3374.0) rotate(-90)" font-size="68" text-anchor="end" fill="#595959" font-family='"Liberation Sans", sans-serif' textLength="322.0" lengthAdjust="spacingAndGlyphs">1/10/1964</text>
<text transform="translate(1626.1,3374.0) rotate(-90)" font-size="68" text-anchor="end" fill="#595959" font-family='"Liberation Sans", sans-serif' textLength="286.0" lengthAdjust="spacingAndGlyphs">1/1/1971</text>
<text transform="translate(1721.4,3374.0) rotate(-90)" font-size="68" text-anchor="end" fill="#595959" font-family='"Liberation Sans", sans-serif' textLength="286.0" lengthAdjust="spacingAndGlyphs">1/4/1977</text>
<text transform="translate(1816.7,3374.0) rotate(-90)" font-size="68" text-anchor="end" fill="#595959" font-family='"Liberation Sans", sans-serif' textLength="286.0" lengthAdjust="spacingAndGlyphs">1/7/1983</text>
<text transform="translate(1912.0,3374.0) rotate(-90)" font-size="68" text-anchor="end" fill="#595959" font-family='"Liberation Sans", sans-serif' textLength="322.0" lengthAdjust="spacingAndGlyphs">1/10/1989</text>
<text transform="translate(2007.3,3374.0) rotate(-90)" font-size="68" text-anchor="end" fill="#595959" font-family='"Liberation Sans", sans-serif' textLength="286.0" lengthAdjust="spacingAndGlyphs">1/1/1996</text>
<text transform="translate(2102.6,3374.0) rotate(-90)" font-size="68" text-anchor="end" fill="#595959" font-family='"Liberation Sans", sans-serif' textLength="286.0" lengthAdjust="spacingAndGlyphs">1/4/2002</text>
<text transform="translate(2197.9,3374.0) rotate(-90)" font-size="68" text-anchor="end" fill="#595959" font-family='"Liberation Sans", sans-serif' textLength="286.0" lengthAdjust="spacingAndGlyphs">1/7/2008</text>
<text transform="translate(2293.2,3374.0) rotate(-90)" font-size="68" text-anchor="end" fill="#595959" font-family='"Liberation Sans", sans-serif' textLength="322.0" lengthAdjust="spacingAndGlyphs">1/10/2014</text>
<text x="387.0" y="2857.0" font-size="68" text-anchor="end" fill="#595959" font-family='"Liberation Sans", sans-serif'>4</text>
<text x="387.0" y="2955.2" font-size="68" text-anchor="end" fill="#595959" font-family='"Liberation Sans", sans-serif'>2</text>
<text x="387.0" y="3053.3" font-size="68" text-anchor="end" fill="#595959" font-family='"Liberation Sans", sans-serif'>0</text>
<text x="387.0" y="3151.5" font-size="68" text-anchor="end" fill="#595959" font-family='"Liberation Sans", sans-serif'>-2</text>
<text x="387.0" y="3249.6" font-size="68" text-anchor="end" fill="#595959" font-family='"Liberation Sans", sans-serif'>-4</text>
<text x="387.0" y="3347.8" font-size="68" text-anchor="end" fill="#595959" font-family='"Liberation Sans", sans-serif'>-6</text>
<text transform="translate(278.0,0) rotate(-90)" font-size="76.7" fill="#595959" style="font-kerning:none" font-family='"Liberation Sans", sans-serif'><tspan x="-3624.8" textLength="446.1" lengthAdjust="spacingAndGlyphs">Temperature</tspan> <tspan x="-3158.3" textLength="297.5" lengthAdjust="spacingAndGlyphs">Anomaly</tspan></text>
<text y="3765.5" font-size="85" fill="#000" style="font-kerning:none" font-family='"Liberation Serif", serif'><tspan x="35.5" textLength="58.6" lengthAdjust="spacingAndGlyphs">c.</tspan></text>
<rect x="79.1" y="3789.2" width="2396.9" height="4.8" fill="#d9d9d9"/>
<rect x="79.1" y="3789.2" width="7.5" height="1161.8" fill="#d9d9d9"/>
<rect x="2469.1" y="3789.2" width="6.9" height="1161.8" fill="#d9d9d9"/>
<rect x="79.1" y="4943.5" width="2396.9" height="7.5" fill="#d9d9d9"/>
<text y="3962.0" font-size="107.5" fill="#595959" style="font-kerning:none" font-family='"Liberation Sans", sans-serif'><tspan x="475.8" textLength="166.9" lengthAdjust="spacingAndGlyphs">RIO</tspan> <tspan x="670.7" textLength="497.0" lengthAdjust="spacingAndGlyphs">GALLEGOS</tspan> <tspan x="1195.7" textLength="466.8" lengthAdjust="spacingAndGlyphs">60-month</tspan> <tspan x="1690.8" textLength="391.1" lengthAdjust="spacingAndGlyphs">Running</tspan></text>
<text y="4105.8" font-size="107.5" fill="#595959" style="font-kerning:none" font-family='"Liberation Sans", sans-serif'><tspan x="1140.5" textLength="274.4" lengthAdjust="spacingAndGlyphs">Mean</tspan></text>
<rect x="501.8" y="4237.9" width="1879.2" height="7.0" fill="#d9d9d9"/>
<rect x="501.8" y="4290.9" width="1879.2" height="7.0" fill="#d9d9d9"/>
<rect x="501.8" y="4344.0" width="1879.2" height="7.0" fill="#d9d9d9"/>
<rect x="501.8" y="4397.0" width="1879.2" height="7.0" fill="#d9d9d9"/>
<rect x="501.8" y="4450.1" width="1879.2" height="7.0" fill="#d9d9d9"/>
<rect x="501.8" y="4503.1" width="1879.2" height="7.0" fill="#d9d9d9"/>
<clipPath id="cd"><rect x="501.8" y="4100" width="1900" height="600"/></clipPath>
<path d="M502.2 4520.6 L2381.0 4286.3" fill="none" stroke="#000" stroke-width="13.5" stroke-linejoin="round" stroke-linecap="round" stroke-dasharray="0 25.03" clip-path="url(#cd)"/>
<path d="M541.1 4521.0 L542.5 4527.3 L543.8 4536.7 L545.1 4545.4 L546.4 4554.3 L547.7 4538.7 L549.0 4528.8 L550.4 4517.2 L551.7 4527.2 L553.0 4549.9 L554.3 4548.0 L555.6 4550.4 L556.9 4546.1 L558.3 4549.4 L559.6 4531.9 L560.9 4520.8 L562.2 4522.1 L563.5 4522.0 L564.8 4522.1 L566.1 4522.4 L567.5 4518.2 L568.8 4520.2 L570.1 4517.5 L571.4 4521.2 L572.7 4519.2 L574.0 4520.2 L575.4 4513.5 L576.7 4503.7 L578.0 4498.1 L579.3 4501.9 L580.6 4500.3 L581.9 4499.8 L583.3 4498.3 L584.6 4493.3 L585.9 4491.7 L587.2 4497.8 L588.5 4497.1 L589.8 4494.9 L591.2 4494.8 L592.5 4495.1 L593.8 4493.9 L595.1 4487.8 L596.4 4482.1 L597.7 4479.9 L599.1 4470.7 L600.4 4461.2 L601.7 4460.7 L603.0 4453.2 L604.3 4457.5 L605.6 4460.6 L606.9 4461.9 L608.3 4460.9 L609.6 4467.0 L610.9 4461.7 L612.2 4462.9 L613.5 4454.1 L614.8 4453.8 L616.2 4450.3 L617.5 4446.3 L618.8 4447.0 L620.1 4447.6 L621.4 4451.3 L622.7 4448.9 L624.1 4450.7 L625.4 4437.5 L626.7 4429.0 L628.0 4418.0 L629.3 4420.1 L630.6 4421.2 L632.0 4417.3 L633.3 4420.6 L634.6 4426.3 L635.9 4431.2 L637.2 4437.8 L638.5 4431.6 L639.8 4436.4 L641.2 4439.2 L642.5 4437.4 L643.8 4435.5 L645.1 4437.4 L646.4 4440.3 L647.7 4437.4 L649.1 4432.3 L650.4 4430.0 L651.7 4429.0 L653.0 4423.2 L654.3 4429.2 L655.6 4424.5 L657.0 4431.9 L658.3 4426.1 L659.6 4434.4 L660.9 4436.2 L662.2 4437.5 L663.5 4445.4 L664.9 4443.9 L666.2 4441.6 L667.5 4438.3 L668.8 4435.3 L670.1 4437.9 L671.4 4442.0 L672.8 4447.7 L674.1 4447.1 L675.4 4447.2 L676.7 4445.8 L678.0 4450.2 L679.3 4457.0 L680.6 4462.9 L682.0 4458.6 L683.3 4455.8 L684.6 4451.8 L685.9 4449.7 L687.2 4455.5 L688.5 4453.4 L689.9 4457.0 L691.2 4457.2 L692.5 4452.6 L693.8 4452.9 L695.1 4452.8 L696.4 4451.3 L697.8 4451.3 L699.1 4451.2 L700.4 4452.4 L701.4 4453.4" fill="none" stroke="#000" stroke-width="11.5" stroke-linejoin="round" stroke-linecap="round"/>
<path d="M967.2 4472.8 L968.5 4469.8 L969.9 4467.0 L971.2 4464.5 L972.5 4463.4 L973.8 4459.2 L975.1 4453.9 L976.4 4455.0 L977.8 4455.4 L979.1 4457.3 L980.4 4459.8 L981.7 4461.8 L983.0 4465.5 L984.3 4463.3 L985.6 4460.2 L987.0 4458.8 L988.3 4461.5 L989.6 4467.4 L990.9 4472.8 L992.2 4473.5 L993.5 4471.2 L994.9 4468.5 L996.2 4460.5 L997.5 4458.8 L998.8 4459.4 L1000.1 4462.2 L1001.4 4462.1 L1002.8 4465.4 L1004.1 4467.2 L1005.4 4468.3 L1006.7 4460.1 L1008.0 4459.1 L1009.3 4450.6 L1010.7 4450.5 L1012.0 4455.6 L1013.3 4457.3 L1014.6 4463.2 L1015.9 4464.7 L1017.2 4459.5 L1018.6 4462.2 L1019.9 4457.1 L1021.2 4457.5 L1022.5 4455.6 L1023.8 4474.0 L1025.1 4477.8 L1026.4 4479.9 L1027.8 4478.6 L1029.1 4477.8 L1030.4 4476.2 L1031.7 4472.6 L1033.0 4471.9 L1034.3 4475.2 L1035.7 4480.1 L1037.0 4481.5 L1038.3 4488.9 L1039.6 4486.1 L1040.9 4487.8 L1042.2 4492.0 L1043.6 4493.9 L1044.9 4492.6 L1046.2 4493.8 L1047.5 4495.5 L1048.8 4493.5 L1050.1 4492.7 L1051.5 4496.3 L1052.8 4501.1 L1054.1 4498.2 L1055.4 4503.0 L1056.7 4504.0 L1058.0 4502.3 L1059.3 4503.9 L1060.7 4503.0 L1062.0 4505.4 L1063.3 4502.1 L1064.6 4501.0 L1065.9 4503.4 L1067.2 4505.1 L1068.6 4511.0 L1069.9 4510.3 L1071.2 4513.5 L1072.5 4517.5 L1073.8 4516.8 L1075.1 4520.0 L1076.5 4518.3 L1077.8 4518.5 L1079.1 4518.2 L1080.4 4518.8 L1081.7 4522.0 L1083.0 4522.3 L1084.4 4525.6 L1085.7 4528.1 L1087.0 4529.4 L1088.3 4527.3 L1089.6 4524.3 L1090.9 4520.1 L1092.3 4522.2 L1093.6 4520.2 L1094.9 4522.5 L1096.2 4520.7 L1097.5 4525.3 L1098.8 4521.3 L1100.1 4521.4 L1101.5 4511.8 L1102.8 4505.6 L1104.1 4503.7 L1105.4 4505.0 L1106.7 4507.5 L1108.0 4505.7 L1109.4 4505.9 L1110.7 4501.8 L1112.0 4508.6 L1113.3 4509.6 L1114.6 4508.7 L1115.9 4504.8 L1117.3 4501.7 L1118.6 4500.8 L1119.9 4492.0 L1121.2 4492.3 L1122.5 4494.9 L1123.8 4490.3 L1125.2 4489.4 L1126.5 4488.0 L1127.8 4482.3 L1129.1 4482.1 L1130.4 4476.4 L1131.7 4479.0 L1133.0 4475.6 L1134.4 4478.1 L1135.7 4473.0 L1137.0 4473.6 L1138.3 4466.5 L1139.6 4466.2 L1140.9 4464.4 L1142.3 4464.7 L1143.6 4455.2 L1144.9 4456.0 L1146.2 4449.2 L1147.5 4445.1 L1148.8 4442.8 L1150.2 4442.9 L1151.5 4443.3 L1152.8 4443.3 L1154.1 4445.9 L1155.4 4443.0 L1156.7 4445.3 L1158.1 4437.9 L1159.4 4437.7 L1160.7 4431.8 L1162.0 4432.3 L1163.3 4432.0 L1164.6 4431.5 L1166.0 4431.1 L1167.3 4426.5 L1168.6 4426.3 L1169.9 4431.7 L1171.2 4434.2 L1172.5 4436.4 L1173.8 4435.1 L1175.2 4435.5 L1176.5 4430.1 L1177.8 4428.1 L1179.1 4425.9 L1180.4 4424.6 L1181.7 4427.0 L1183.1 4433.5 L1184.4 4433.0 L1185.7 4434.9 L1187.0 4438.7 L1188.3 4444.4 L1189.6 4444.6 L1191.0 4446.8 L1192.3 4445.5 L1193.6 4439.5 L1194.9 4434.4 L1196.2 4435.8 L1197.5 4435.0 L1198.9 4434.0 L1200.2 4437.6 L1201.5 4437.7 L1202.8 4435.2 L1204.1 4440.9 L1205.4 4442.4 L1206.7 4442.8 L1208.1 4449.6 L1209.4 4451.5 L1210.7 4452.8 L1212.0 4457.9 L1213.3 4460.5 L1214.6 4461.0 L1216.0 4466.9 L1217.3 4473.4 L1218.6 4474.8 L1219.9 4479.6 L1221.2 4481.5 L1222.5 4488.1 L1223.9 4483.6 L1225.2 4492.2 L1226.5 4493.7 L1227.8 4497.0 L1229.1 4497.1 L1230.4 4489.3 L1231.8 4489.4 L1233.1 4480.6 L1234.4 4481.2 L1235.7 4483.4 L1237.0 4487.0 L1238.3 4492.5 L1239.7 4495.7 L1241.0 4497.7 L1242.3 4493.0 L1243.6 4500.7 L1244.9 4496.0 L1246.2 4499.5 L1247.5 4493.5 L1248.9 4495.6 L1250.2 4498.4 L1251.5 4492.2 L1252.8 4490.4 L1254.1 4491.8 L1255.4 4493.9 L1256.8 4494.3 L1258.1 4495.5 L1259.4 4492.4 L1260.7 4489.7 L1262.0 4490.4 L1263.3 4486.3 L1264.7 4477.3 L1266.0 4465.0 L1267.3 4465.9 L1268.6 4467.7 L1269.9 4468.0 L1271.2 4464.1 L1272.6 4462.6 L1273.9 4459.5 L1275.2 4460.3 L1276.5 4462.1 L1277.8 4463.0 L1279.1 4463.1 L1280.4 4460.7 L1281.8 4456.2 L1283.1 4453.9 L1284.4 4450.1 L1285.7 4452.0 L1287.0 4445.9 L1288.3 4448.4 L1289.7 4449.2 L1291.0 4450.6 L1292.3 4446.9 L1293.6 4441.5 L1294.9 4428.8 L1296.2 4421.3 L1297.6 4419.9 L1298.9 4422.7 L1300.2 4420.1 L1301.5 4417.6 L1302.8 4419.1 L1304.1 4413.5 L1305.5 4414.3 L1306.8 4415.5 L1308.1 4416.3 L1309.4 4422.6 L1310.7 4423.4 L1312.0 4419.5 L1313.4 4422.2 L1314.7 4423.0 L1316.0 4423.0 L1317.3 4417.9 L1318.6 4415.8 L1319.9 4415.2 L1321.2 4418.7 L1322.6 4418.9 L1323.9 4420.0 L1325.2 4418.1 L1326.5 4417.4 L1327.8 4416.1 L1329.1 4422.2 L1330.5 4424.3 L1331.8 4427.5 L1333.1 4429.1 L1334.4 4429.1 L1335.7 4430.4 L1337.0 4425.6 L1338.4 4422.7 L1339.7 4421.2 L1341.0 4421.1 L1342.3 4418.8 L1343.6 4423.8 L1344.9 4424.6 L1346.3 4423.9 L1347.6 4423.8 L1348.9 4426.6 L1350.2 4426.3 L1351.5 4417.7 L1352.8 4413.4 L1354.1 4415.9 L1355.5 4419.6 L1356.8 4419.8 L1358.1 4424.7 L1359.4 4428.2 L1360.7 4435.3 L1362.0 4437.0 L1363.4 4440.6 L1364.7 4438.2 L1366.0 4442.0 L1367.3 4439.4 L1368.6 4443.4 L1369.9 4444.6 L1371.3 4443.0 L1372.6 4447.9 L1373.9 4444.4 L1375.2 4438.8 L1376.5 4443.0 L1377.8 4442.0 L1379.2 4445.4 L1380.5 4449.0 L1381.8 4451.5 L1383.1 4449.3 L1384.4 4451.0 L1385.7 4454.0 L1387.1 4454.1 L1388.4 4454.5 L1389.7 4453.4 L1391.0 4444.9 L1392.3 4449.6 L1393.6 4442.5 L1394.9 4447.6 L1396.3 4442.9 L1397.6 4438.2 L1398.9 4442.5 L1400.2 4437.5 L1401.5 4430.1 L1402.8 4432.2 L1404.2 4427.8 L1405.5 4428.3 L1406.8 4428.5 L1408.1 4433.4 L1409.4 4429.2 L1410.7 4434.0 L1412.1 4436.2 L1413.4 4428.7 L1414.7 4428.6 L1416.0 4426.9 L1417.3 4430.4 L1418.6 4438.4 L1420.0 4442.5 L1421.3 4443.7 L1422.6 4450.8 L1423.9 4450.5 L1425.2 4450.2 L1426.5 4450.9 L1427.8 4450.5 L1429.2 4454.1 L1430.5 4450.9 L1431.8 4450.1 L1433.1 4443.5 L1434.4 4439.9 L1435.7 4433.1 L1437.1 4429.6 L1438.4 4424.1 L1439.7 4423.5 L1441.0 4420.6 L1442.3 4416.0 L1443.6 4408.6 L1445.0 4402.5 L1446.3 4403.2 L1447.6 4405.0 L1448.9 4411.0 L1450.2 4411.5 L1451.5 4416.9 L1452.9 4418.1 L1454.2 4414.5 L1455.5 4411.6 L1456.8 4414.3 L1458.1 4413.2 L1459.4 4404.6 L1460.8 4401.4 L1462.1 4396.8 L1463.4 4394.5 L1464.7 4394.1 L1466.0 4394.4 L1467.3 4399.8 L1468.6 4396.1 L1470.0 4395.1 L1471.3 4395.2 L1472.6 4397.1 L1473.9 4393.0 L1475.2 4394.6 L1476.5 4394.3 L1477.9 4393.7 L1479.2 4396.5 L1480.5 4394.2 L1481.8 4399.1 L1483.1 4396.7 L1484.4 4399.1 L1485.8 4403.8 L1487.1 4404.5 L1488.4 4401.9 L1489.7 4398.4 L1491.0 4400.9 L1492.3 4397.4 L1493.7 4395.8 L1495.0 4394.3 L1496.3 4387.6 L1497.6 4378.5 L1498.9 4382.7 L1500.2 4381.7 L1501.5 4379.6 L1502.9 4382.3 L1504.2 4381.0 L1505.5 4379.6 L1506.8 4380.6 L1508.1 4384.4 L1509.4 4381.0 L1510.8 4384.4 L1512.1 4385.2 L1513.4 4389.2 L1514.7 4392.1 L1516.0 4394.4 L1517.3 4399.2 L1518.7 4397.7 L1520.0 4394.7 L1521.3 4390.9 L1522.6 4392.8 L1523.9 4390.4 L1525.2 4387.7 L1526.6 4378.0 L1527.9 4374.3 L1529.2 4368.8 L1530.5 4363.8 L1531.8 4361.8 L1533.1 4356.2 L1534.5 4359.1 L1535.8 4358.6 L1537.1 4360.9 L1538.4 4363.9 L1539.7 4360.6 L1541.0 4362.5 L1542.3 4360.1 L1543.7 4361.0 L1545.0 4350.7 L1546.3 4352.2 L1547.6 4345.9 L1548.9 4345.0 L1550.2 4345.3 L1551.6 4346.7 L1552.9 4351.8 L1554.2 4348.2 L1555.5 4349.7 L1556.8 4347.6 L1558.1 4348.1 L1559.5 4341.6 L1560.8 4343.4 L1562.1 4337.1 L1563.4 4336.9 L1564.7 4338.0 L1566.0 4337.2 L1567.4 4339.3 L1568.7 4339.7 L1570.0 4340.5 L1571.3 4345.2 L1572.6 4348.6 L1573.9 4354.6 L1575.2 4357.2 L1576.6 4353.6 L1577.9 4352.9 L1579.2 4347.5 L1580.5 4345.7 L1581.8 4344.9 L1583.1 4348.9 L1584.5 4347.0 L1585.8 4347.8 L1587.1 4347.7 L1588.4 4352.5 L1589.7 4351.9 L1591.0 4356.4 L1592.4 4354.5 L1593.7 4363.0 L1595.0 4360.9 L1596.3 4362.9 L1597.6 4366.7 L1598.9 4362.2 L1600.3 4364.9 L1601.6 4365.4 L1602.9 4363.5 L1604.2 4368.4 L1605.5 4374.8 L1606.8 4376.7 L1608.2 4386.5 L1609.5 4398.0 L1610.8 4391.8 L1612.1 4391.7 L1613.4 4390.7 L1614.7 4389.9 L1616.0 4386.1 L1617.4 4384.7 L1618.7 4381.6 L1620.0 4388.9 L1621.3 4388.5 L1622.6 4393.3 L1623.9 4394.8 L1625.3 4399.2 L1626.6 4400.8 L1627.9 4399.7 L1629.2 4396.9 L1630.5 4399.4 L1631.8 4399.6 L1633.2 4396.1 L1634.5 4396.0 L1635.8 4395.6 L1637.1 4397.0 L1638.4 4397.1 L1639.7 4398.3 L1641.1 4400.9 L1642.4 4400.6 L1643.7 4399.8 L1645.0 4402.8 L1646.3 4397.4 L1647.6 4399.6 L1648.9 4398.9 L1650.3 4399.0 L1651.6 4395.3 L1652.9 4395.4 L1654.2 4392.2 L1655.5 4391.5 L1656.8 4392.0 L1658.2 4394.2 L1659.5 4394.7 L1660.8 4400.0 L1662.1 4399.7 L1663.4 4402.5 L1664.7 4400.6 L1666.1 4401.7 L1667.4 4400.8 L1668.7 4396.5 L1670.0 4396.4 L1671.3 4395.0 L1672.6 4392.0 L1674.0 4395.7 L1675.3 4395.8 L1676.6 4392.6 L1677.9 4390.7 L1679.2 4393.0 L1680.5 4385.9 L1681.9 4389.4 L1683.2 4386.2 L1684.5 4381.5 L1685.8 4382.2 L1687.1 4378.0 L1688.4 4372.8 L1689.7 4372.4 L1691.1 4371.0 L1692.4 4370.0 L1693.7 4367.6 L1695.0 4372.2 L1696.3 4369.7 L1697.6 4365.5 L1699.0 4358.0 L1700.3 4360.6 L1701.6 4356.8 L1702.9 4349.6 L1704.2 4346.0 L1705.5 4347.4 L1706.9 4351.3 L1708.2 4350.0 L1709.5 4353.0 L1710.8 4356.6 L1712.1 4352.1 L1713.4 4359.3 L1714.8 4358.7 L1716.1 4353.3 L1717.4 4353.2 L1718.7 4355.7 L1720.0 4354.4 L1721.3 4354.6 L1722.6 4349.7 L1724.0 4351.8 L1725.3 4354.5 L1726.6 4347.2 L1727.9 4347.0 L1729.2 4342.7 L1730.5 4345.1 L1731.9 4341.6 L1733.2 4344.1 L1734.5 4337.6 L1735.8 4331.1 L1737.1 4327.7 L1738.4 4320.3 L1739.8 4314.5 L1741.1 4313.8 L1742.4 4308.9 L1743.7 4306.5 L1745.0 4305.8 L1746.3 4302.8 L1747.7 4303.5 L1749.0 4306.1 L1750.3 4303.0 L1751.6 4311.2 L1752.9 4309.8 L1754.2 4311.2 L1755.6 4317.4 L1756.9 4314.4 L1758.2 4317.5 L1759.5 4317.0 L1760.8 4312.7 L1762.1 4316.9 L1763.4 4316.2 L1764.8 4312.3 L1766.1 4309.1 L1767.4 4310.6 L1768.7 4309.3 L1770.0 4306.8 L1771.3 4303.9 L1772.7 4301.4 L1774.0 4300.8 L1775.3 4305.2 L1776.6 4307.7 L1777.9 4312.8 L1779.2 4318.2 L1780.6 4325.6 L1781.9 4336.0 L1783.2 4341.5 L1784.5 4340.4 L1785.8 4338.7 L1787.1 4335.3 L1788.5 4333.2 L1789.8 4326.3 L1791.1 4326.8 L1792.4 4326.0 L1793.7 4324.6 L1795.0 4318.0 L1796.3 4319.4 L1797.7 4319.5 L1799.0 4315.4 L1800.3 4314.3 L1801.6 4314.1 L1802.9 4312.4 L1804.2 4311.9 L1805.6 4310.3 L1806.9 4312.2 L1808.2 4312.1 L1809.5 4315.2 L1810.8 4319.8 L1812.1 4318.5 L1813.5 4319.2 L1814.8 4319.1 L1816.1 4322.2 L1817.4 4319.5 L1818.7 4323.6 L1820.0 4321.0 L1821.4 4322.1 L1822.7 4326.0 L1824.0 4327.1 L1825.3 4328.8 L1826.6 4331.6 L1827.9 4323.4 L1829.3 4318.5 L1830.6 4311.5 L1831.9 4314.0 L1833.2 4310.9 L1834.5 4308.9 L1835.8 4306.4 L1837.1 4302.6 L1838.5 4301.8 L1839.8 4301.8 L1841.1 4299.1 L1842.4 4297.7 L1843.7 4293.1 L1845.0 4298.7 L1846.4 4299.8 L1847.7 4301.9 L1849.0 4306.7 L1850.3 4306.2 L1851.6 4314.0 L1852.9 4311.7 L1854.3 4307.3 L1855.6 4302.7 L1856.9 4300.2 L1858.2 4296.8 L1859.5 4283.2 L1860.8 4277.7 L1862.2 4277.2 L1863.5 4273.9 L1864.8 4272.2 L1866.1 4272.3 L1867.4 4271.5 L1868.7 4272.6 L1870.0 4270.0 L1871.4 4268.2 L1872.7 4268.3 L1874.0 4269.1 L1875.3 4271.5 L1876.6 4267.3 L1877.9 4267.1 L1879.3 4269.2 L1880.6 4268.7 L1881.9 4275.2 L1883.2 4273.5 L1884.5 4275.6 L1885.8 4273.0 L1887.2 4272.0 L1888.5 4272.7 L1889.8 4266.2 L1891.1 4262.7 L1892.4 4266.2 L1893.7 4267.6 L1895.1 4271.5 L1896.4 4274.5 L1897.7 4275.3 L1899.0 4275.1 L1900.3 4278.9 L1901.6 4281.0 L1903.0 4279.7 L1904.3 4278.9 L1905.6 4284.8 L1906.9 4283.4 L1908.2 4288.4 L1909.5 4294.1 L1910.8 4299.7 L1912.2 4299.2 L1913.5 4299.1 L1914.8 4302.1 L1916.1 4305.8 L1917.4 4305.7 L1918.7 4307.1 L1920.1 4308.4 L1921.4 4319.4 L1922.7 4317.9 L1924.0 4314.6 L1925.3 4308.7 L1926.6 4308.1 L1928.0 4302.6 L1929.3 4298.5 L1930.6 4301.6 L1931.9 4301.8 L1933.2 4299.8 L1934.5 4299.8 L1935.9 4303.4 L1937.2 4306.7 L1938.5 4310.2 L1939.8 4311.7 L1941.1 4316.2 L1942.4 4314.8 L1943.7 4315.2 L1945.1 4319.2 L1946.4 4325.4 L1947.7 4323.8 L1949.0 4331.1 L1950.3 4330.3 L1951.6 4327.0 L1953.0 4327.3 L1954.3 4329.0 L1955.6 4328.0 L1956.9 4342.3 L1958.2 4344.2 L1959.5 4348.7 L1960.9 4350.9 L1962.2 4348.4 L1963.5 4347.3 L1964.8 4349.4 L1966.1 4351.4 L1967.4 4353.0 L1968.8 4338.9 L1970.1 4335.6 L1971.4 4338.2 L1972.7 4336.4 L1974.0 4333.1 L1975.3 4333.5 L1976.7 4329.8 L1978.0 4331.6 L1979.3 4334.2 L1980.6 4335.1 L1981.9 4331.2 L1983.2 4332.4 L1984.5 4335.7 L1985.9 4332.8 L1987.2 4326.0 L1988.5 4323.8 L1989.8 4332.7 L1991.1 4333.0 L1992.4 4336.3 L1993.8 4335.6 L1995.1 4334.5 L1996.4 4329.3 L1997.7 4328.9 L1999.0 4323.4 L2000.3 4318.6 L2001.7 4316.3 L2003.0 4307.4 L2004.3 4305.5 L2005.6 4304.6 L2006.9 4306.6 L2008.2 4310.1 L2009.6 4307.7 L2010.9 4312.5 L2012.2 4306.2 L2013.5 4307.7 L2014.8 4311.1 L2016.1 4303.0 L2017.4 4308.5 L2018.8 4301.1 L2020.1 4303.3 L2021.4 4301.9 L2022.7 4302.5 L2024.0 4297.3 L2025.3 4299.1 L2026.7 4303.4 L2028.0 4306.3 L2029.3 4306.1 L2030.6 4305.5 L2031.9 4301.2 L2033.2 4300.4 L2034.6 4297.1 L2035.9 4296.9 L2037.2 4300.0 L2038.5 4306.3 L2039.8 4306.7 L2041.1 4309.5 L2042.5 4311.0 L2043.8 4311.1 L2045.1 4312.4 L2046.4 4310.1 L2047.7 4314.8 L2049.0 4317.1 L2050.4 4323.2 L2051.7 4328.0 L2053.0 4338.1 L2054.3 4335.0 L2055.6 4337.0 L2056.9 4334.7 L2058.2 4330.3 L2059.6 4331.0 L2060.9 4336.1 L2062.2 4337.8 L2063.5 4342.0 L2064.8 4348.7 L2066.1 4350.3 L2067.5 4349.7 L2068.8 4352.2 L2070.1 4352.9 L2071.4 4350.9 L2072.7 4357.0 L2074.0 4356.7 L2075.4 4363.3 L2076.7 4360.7 L2078.0 4362.2 L2079.3 4370.1 L2080.6 4367.0 L2081.9 4371.5 L2083.3 4376.6 L2084.6 4377.4 L2085.9 4377.4 L2087.2 4383.7 L2088.5 4384.3 L2089.8 4384.0 L2091.1 4379.3 L2092.5 4378.8 L2093.8 4368.3 L2095.1 4369.0 L2096.4 4365.0 L2097.7 4367.7 L2099.0 4365.2 L2100.4 4363.8 L2101.7 4361.0 L2103.0 4361.3 L2104.3 4359.0 L2105.6 4366.7 L2106.9 4364.6 L2108.3 4363.7 L2109.6 4367.8 L2110.9 4369.1 L2112.2 4371.1 L2113.5 4367.6 L2114.8 4367.1 L2116.2 4364.1 L2117.5 4359.6 L2118.8 4356.3 L2120.1 4351.0 L2121.4 4352.0 L2122.7 4354.4 L2124.1 4350.5 L2125.4 4349.5 L2126.7 4346.3 L2128.0 4346.1 L2129.3 4346.5 L2130.6 4341.3 L2131.9 4343.9 L2133.3 4341.0 L2134.6 4345.3 L2135.9 4347.2 L2137.2 4345.2 L2138.5 4350.2 L2139.8 4343.4 L2141.2 4338.7 L2142.5 4335.9 L2143.8 4335.9 L2145.1 4330.0 L2146.4 4328.7 L2147.7 4322.7 L2149.1 4321.7 L2150.4 4317.1 L2151.7 4316.7 L2153.0 4317.9 L2154.3 4314.5 L2155.6 4315.8 L2157.0 4315.8 L2158.3 4319.7 L2159.6 4326.6 L2160.9 4326.7 L2162.2 4327.6 L2163.5 4329.6 L2164.8 4324.2 L2166.2 4315.8 L2167.5 4316.2 L2168.8 4314.2 L2170.1 4320.2 L2171.4 4316.9 L2172.7 4318.8 L2174.1 4319.8 L2175.4 4321.4 L2176.7 4324.1 L2178.0 4324.6 L2179.3 4327.4 L2180.6 4328.4 L2182.0 4333.2 L2183.3 4337.7 L2184.6 4344.4 L2185.9 4348.7 L2187.2 4349.5 L2188.5 4350.3 L2189.9 4346.6 L2191.2 4343.2 L2192.5 4340.5 L2193.8 4343.7 L2195.1 4341.0 L2196.4 4341.5 L2197.8 4336.5 L2199.1 4339.2 L2200.4 4336.5 L2201.7 4339.7 L2203.0 4341.4 L2204.3 4339.5 L2205.6 4342.1 L2207.0 4339.2 L2208.3 4342.6 L2209.6 4338.5 L2210.9 4341.3 L2212.2 4342.8 L2213.5 4341.3 L2214.9 4335.4 L2216.2 4335.2 L2217.5 4331.0 L2218.8 4331.4 L2220.1 4328.9 L2221.4 4336.9 L2222.8 4333.2 L2224.1 4331.6 L2225.4 4334.3 L2226.7 4331.8 L2228.0 4327.3 L2229.3 4321.9 L2230.7 4325.3 L2232.0 4325.2 L2233.3 4326.1 L2234.6 4332.5 L2235.9 4328.3 L2237.2 4327.9 L2238.5 4319.8 L2239.9 4315.0 L2241.2 4306.1 L2242.5 4303.6 L2243.8 4308.0 L2245.1 4311.9 L2246.4 4314.6 L2247.8 4318.0 L2249.1 4314.2 L2250.4 4319.5 L2251.7 4324.3 L2253.0 4327.5 L2254.3 4330.2 L2255.7 4327.9 L2257.0 4330.6 L2258.3 4329.2 L2259.6 4325.6 L2260.9 4322.0 L2262.2 4319.6 L2263.6 4304.4 L2264.9 4297.6 L2266.2 4302.7 L2267.5 4300.3 L2268.8 4301.2 L2270.1 4300.4 L2271.5 4301.0 L2272.8 4302.1 L2274.1 4299.3 L2275.4 4301.1 L2276.7 4301.1 L2278.0 4300.2 L2279.3 4300.5 L2280.7 4305.1 L2282.0 4308.9 L2283.3 4305.5 L2284.6 4310.7 L2285.9 4310.9 L2287.2 4301.8 L2288.6 4301.0 L2289.9 4298.0 L2291.2 4297.5 L2292.5 4294.9 L2293.8 4296.2 L2295.1 4297.3 L2296.5 4295.1 L2297.8 4296.2 L2299.1 4296.0 L2300.4 4297.4 L2301.7 4295.8 L2303.0 4294.6 L2304.4 4291.1 L2305.7 4294.1 L2307.0 4293.9 L2308.3 4294.9 L2309.6 4292.9 L2310.9 4291.6 L2312.2 4293.0 L2313.6 4296.3 L2314.9 4297.2 L2316.2 4304.5 L2317.5 4308.8 L2318.8 4312.7 L2320.1 4310.9 L2321.5 4310.5 L2322.8 4309.7 L2324.1 4307.9 L2325.4 4308.1 L2326.7 4304.9 L2328.0 4302.4 L2329.4 4304.0 L2330.7 4298.6 L2332.0 4296.1 L2333.3 4296.9 L2334.6 4294.7 L2335.9 4294.4 L2337.3 4293.0 L2338.6 4290.1 L2339.9 4292.2 L2341.2 4289.7 L2342.5 4292.2 L2343.8 4289.1 L2345.2 4293.1 L2346.5 4293.5 L2347.8 4295.5 L2349.1 4297.7 L2350.4 4301.7 L2351.7 4299.9 L2353.0 4301.4 L2354.4 4300.9 L2355.7 4299.6 L2357.0 4296.5 L2358.3 4292.3 L2359.6 4293.7 L2360.9 4291.7 L2362.3 4289.7 L2363.6 4291.8 L2364.9 4289.9 L2365.2 4290.1" fill="none" stroke="#000" stroke-width="11.5" stroke-linejoin="round" stroke-linecap="round"/>
<rect x="498.3" y="4237.9" width="7.0" height="325.3" fill="#000"/>
<rect x="501.8" y="4237.9" width="23.7" height="7.0" fill="#000"/>
<rect x="501.8" y="4290.9" width="23.7" height="7.0" fill="#000"/>
<rect x="501.8" y="4344.0" width="23.7" height="7.0" fill="#000"/>
<rect x="501.8" y="4397.0" width="23.7" height="7.0" fill="#000"/>
<rect x="501.8" y="4450.1" width="23.7" height="7.0" fill="#000"/>
<rect x="501.8" y="4503.1" width="23.7" height="7.0" fill="#000"/>
<rect x="501.8" y="4556.2" width="23.7" height="7.0" fill="#000"/>
<rect x="498.3" y="4556.2" width="1886.2" height="7.0" fill="#000"/>
<text transform="translate(528.3,4608.2) rotate(-90)" font-size="68" text-anchor="end" fill="#595959" font-family='"Liberation Sans", sans-serif' textLength="286.0" lengthAdjust="spacingAndGlyphs">1901/1/1</text>
<rect x="608.9" y="4536.0" width="7.0" height="23.7" fill="#000"/>
<text transform="translate(638.9,4608.2) rotate(-90)" font-size="68" text-anchor="end" fill="#595959" font-family='"Liberation Sans", sans-serif' textLength="286.0" lengthAdjust="spacingAndGlyphs">1908/1/1</text>
<rect x="719.4" y="4536.0" width="7.0" height="23.7" fill="#000"/>
<text transform="translate(749.4,4608.2) rotate(-90)" font-size="68" text-anchor="end" fill="#595959" font-family='"Liberation Sans", sans-serif' textLength="286.0" lengthAdjust="spacingAndGlyphs">1915/1/1</text>
<rect x="830.0" y="4536.0" width="7.0" height="23.7" fill="#000"/>
<text transform="translate(860.0,4608.2) rotate(-90)" font-size="68" text-anchor="end" fill="#595959" font-family='"Liberation Sans", sans-serif' textLength="286.0" lengthAdjust="spacingAndGlyphs">1922/1/1</text>
<rect x="940.5" y="4536.0" width="7.0" height="23.7" fill="#000"/>
<text transform="translate(970.5,4608.2) rotate(-90)" font-size="68" text-anchor="end" fill="#595959" font-family='"Liberation Sans", sans-serif' textLength="286.0" lengthAdjust="spacingAndGlyphs">1929/1/1</text>
<rect x="1051.0" y="4536.0" width="7.0" height="23.7" fill="#000"/>
<text transform="translate(1081.0,4608.2) rotate(-90)" font-size="68" text-anchor="end" fill="#595959" font-family='"Liberation Sans", sans-serif' textLength="286.0" lengthAdjust="spacingAndGlyphs">1936/1/1</text>
<rect x="1161.6" y="4536.0" width="7.0" height="23.7" fill="#000"/>
<text transform="translate(1191.6,4608.2) rotate(-90)" font-size="68" text-anchor="end" fill="#595959" font-family='"Liberation Sans", sans-serif' textLength="286.0" lengthAdjust="spacingAndGlyphs">1943/1/1</text>
<rect x="1272.2" y="4536.0" width="7.0" height="23.7" fill="#000"/>
<text transform="translate(1302.2,4608.2) rotate(-90)" font-size="68" text-anchor="end" fill="#595959" font-family='"Liberation Sans", sans-serif' textLength="286.0" lengthAdjust="spacingAndGlyphs">1950/1/1</text>
<rect x="1382.7" y="4536.0" width="7.0" height="23.7" fill="#000"/>
<text transform="translate(1412.7,4608.2) rotate(-90)" font-size="68" text-anchor="end" fill="#595959" font-family='"Liberation Sans", sans-serif' textLength="286.0" lengthAdjust="spacingAndGlyphs">1957/1/1</text>
<rect x="1493.2" y="4536.0" width="7.0" height="23.7" fill="#000"/>
<text transform="translate(1523.2,4608.2) rotate(-90)" font-size="68" text-anchor="end" fill="#595959" font-family='"Liberation Sans", sans-serif' textLength="286.0" lengthAdjust="spacingAndGlyphs">1964/1/1</text>
<rect x="1603.8" y="4536.0" width="7.0" height="23.7" fill="#000"/>
<text transform="translate(1633.8,4608.2) rotate(-90)" font-size="68" text-anchor="end" fill="#595959" font-family='"Liberation Sans", sans-serif' textLength="286.0" lengthAdjust="spacingAndGlyphs">1971/1/1</text>
<rect x="1714.3" y="4536.0" width="7.0" height="23.7" fill="#000"/>
<text transform="translate(1744.3,4608.2) rotate(-90)" font-size="68" text-anchor="end" fill="#595959" font-family='"Liberation Sans", sans-serif' textLength="286.0" lengthAdjust="spacingAndGlyphs">1978/1/1</text>
<rect x="1824.9" y="4536.0" width="7.0" height="23.7" fill="#000"/>
<text transform="translate(1854.9,4608.2) rotate(-90)" font-size="68" text-anchor="end" fill="#595959" font-family='"Liberation Sans", sans-serif' textLength="286.0" lengthAdjust="spacingAndGlyphs">1985/1/1</text>
<rect x="1935.4" y="4536.0" width="7.0" height="23.7" fill="#000"/>
<text transform="translate(1965.4,4608.2) rotate(-90)" font-size="68" text-anchor="end" fill="#595959" font-family='"Liberation Sans", sans-serif' textLength="286.0" lengthAdjust="spacingAndGlyphs">1992/1/1</text>
<rect x="2046.0" y="4536.0" width="7.0" height="23.7" fill="#000"/>
<text transform="translate(2076.0,4608.2) rotate(-90)" font-size="68" text-anchor="end" fill="#595959" font-family='"Liberation Sans", sans-serif' textLength="286.0" lengthAdjust="spacingAndGlyphs">1999/1/1</text>
<rect x="2156.6" y="4536.0" width="7.0" height="23.7" fill="#000"/>
<text transform="translate(2186.6,4608.2) rotate(-90)" font-size="68" text-anchor="end" fill="#595959" font-family='"Liberation Sans", sans-serif' textLength="286.0" lengthAdjust="spacingAndGlyphs">2006/1/1</text>
<rect x="2267.1" y="4536.0" width="7.0" height="23.7" fill="#000"/>
<text transform="translate(2297.1,4608.2) rotate(-90)" font-size="68" text-anchor="end" fill="#595959" font-family='"Liberation Sans", sans-serif' textLength="286.0" lengthAdjust="spacingAndGlyphs">2013/1/1</text>
<rect x="2377.7" y="4536.0" width="7.0" height="23.7" fill="#000"/>
<text x="430.0" y="4262.4" font-size="68" text-anchor="end" fill="#595959" font-family='"Liberation Sans", sans-serif'>0.8</text>
<text x="430.0" y="4315.4" font-size="68" text-anchor="end" fill="#595959" font-family='"Liberation Sans", sans-serif'>0.4</text>
<text x="430.0" y="4368.5" font-size="68" text-anchor="end" fill="#595959" font-family='"Liberation Sans", sans-serif'>0</text>
<text x="430.0" y="4421.5" font-size="68" text-anchor="end" fill="#595959" font-family='"Liberation Sans", sans-serif'>-0.4</text>
<text x="430.0" y="4474.6" font-size="68" text-anchor="end" fill="#595959" font-family='"Liberation Sans", sans-serif'>-0.8</text>
<text x="430.0" y="4527.6" font-size="68" text-anchor="end" fill="#595959" font-family='"Liberation Sans", sans-serif'>-1.2</text>
<text x="430.0" y="4580.7" font-size="68" text-anchor="end" fill="#595959" font-family='"Liberation Sans", sans-serif'>-1.6</text>
<text transform="translate(267.0,0) rotate(-90)" font-size="76.7" fill="#595959" style="font-kerning:none" font-family='"Liberation Sans", sans-serif'><tspan x="-4839.3" textLength="404.8" lengthAdjust="spacingAndGlyphs">Temperatur</tspan> <tspan x="-4414.3" textLength="297.1" lengthAdjust="spacingAndGlyphs">Anomaly</tspan></text>
<text y="4951.2" font-size="84" fill="#000" style="font-kerning:none" font-family='"Liberation Serif", serif'><tspan x="10.3" textLength="74.4" lengthAdjust="spacingAndGlyphs">d.</tspan></text>
</svg>
</body></html>
